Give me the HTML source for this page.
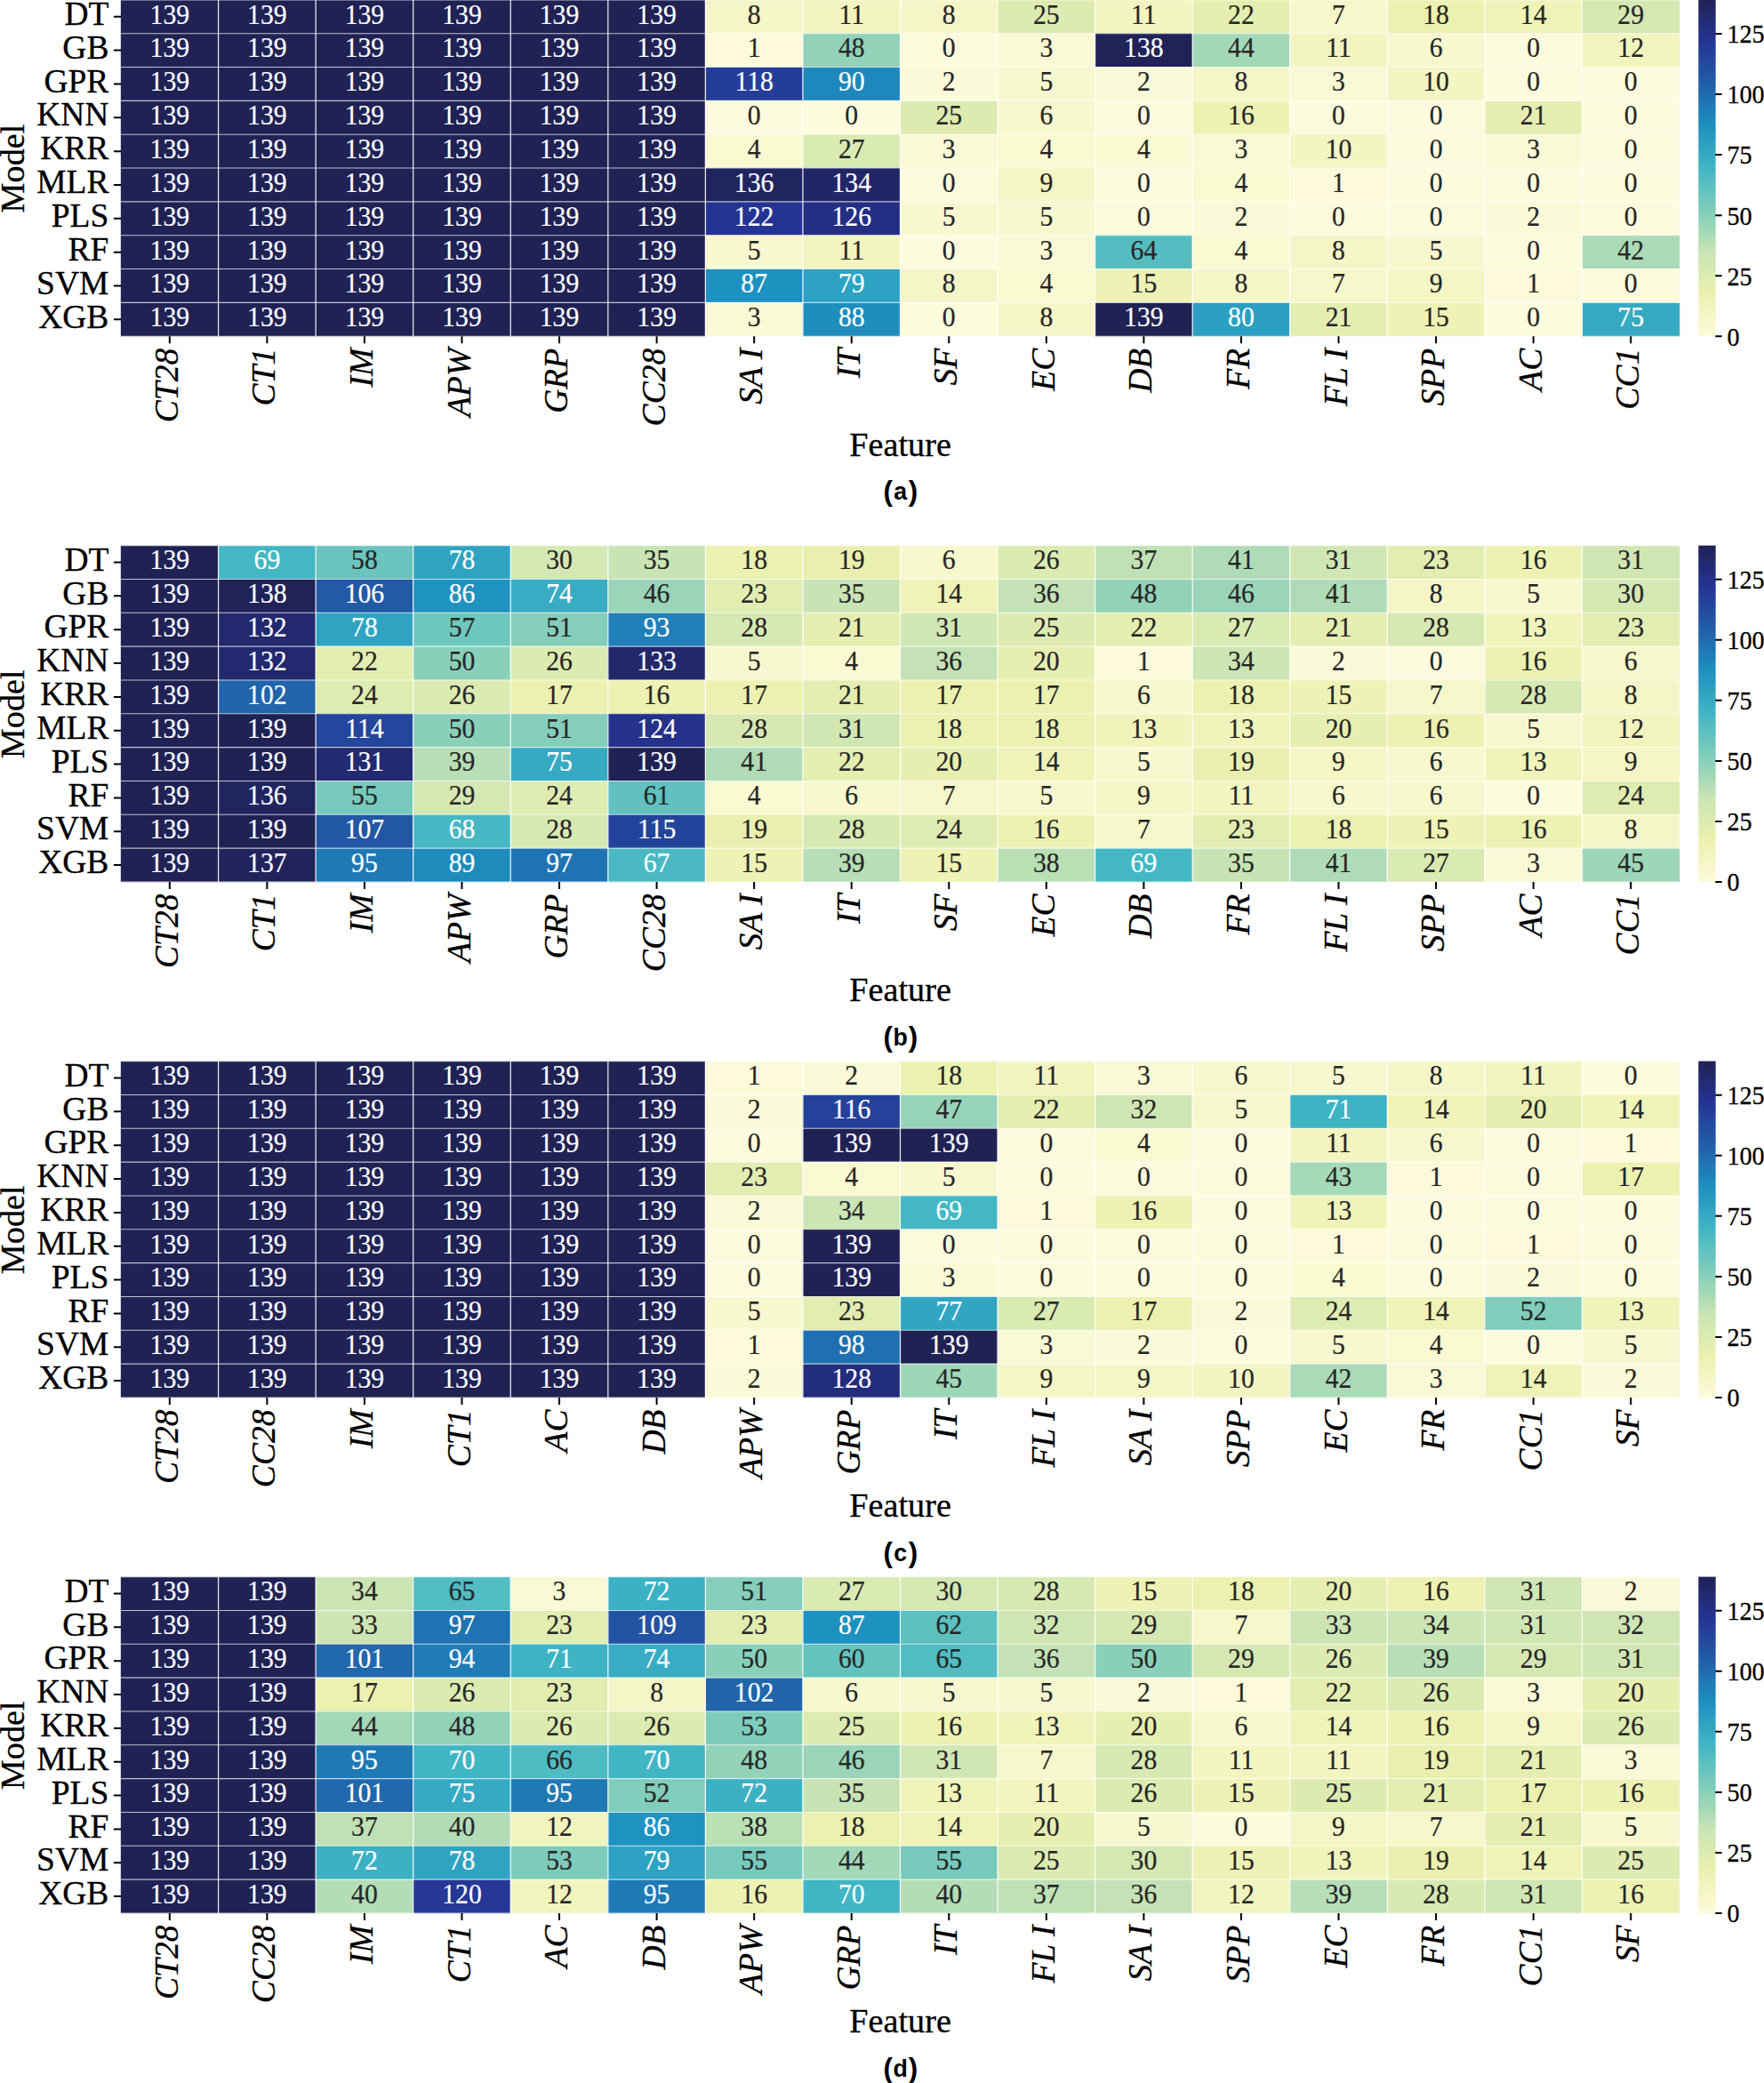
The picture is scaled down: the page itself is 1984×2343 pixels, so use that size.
<!DOCTYPE html>
<html><head><meta charset="utf-8"><title>Feature selection frequency heatmaps</title>
<style>
html,body{margin:0;padding:0;background:#fff}
body{width:1984px;height:2343px;overflow:hidden}
svg{display:block}
text{font-family:"Liberation Serif","Times New Roman",serif}
.an{font-size:31.8px;text-anchor:middle;stroke-width:0.22}
.w{fill:#fff;stroke:#fff}.k{fill:#262626;stroke:#262626}
.yt{font-size:37.5px;text-anchor:end;fill:#000;stroke:#000;stroke-width:0.3}
.xt{font-size:37.5px;text-anchor:end;font-style:italic;fill:#000;stroke:#000;stroke-width:0.3}
.al{font-size:38.2px;text-anchor:middle;fill:#000;stroke:#000;stroke-width:0.3}
.cb{font-size:30.2px;text-anchor:start;fill:#000;stroke:#000;stroke-width:0.3}
.cap{font-family:"Liberation Sans",Arial,sans-serif;font-weight:bold;font-size:26.8px;text-anchor:middle;fill:#000}
.pr{font-size:31.5px}
.tk{stroke:#000;stroke-width:2;fill:none}
.gh{stroke:#fff;stroke-width:1.1;stroke-opacity:0.7;fill:none}
.gv{stroke:#fff;stroke-width:1.25;stroke-opacity:0.9;fill:none}
</style></head><body>
<svg width="1984" height="2343" viewBox="0 0 1984 2343">
<defs><linearGradient id="cbg" x1="0" y1="0" x2="0" y2="1"><stop offset="0.0000" stop-color="#202254"/><stop offset="0.0156" stop-color="#21245c"/><stop offset="0.0312" stop-color="#212664"/><stop offset="0.0469" stop-color="#22296c"/><stop offset="0.0625" stop-color="#222b74"/><stop offset="0.0781" stop-color="#232d7c"/><stop offset="0.0938" stop-color="#243084"/><stop offset="0.1094" stop-color="#24328c"/><stop offset="0.1250" stop-color="#253494"/><stop offset="0.1406" stop-color="#253996"/><stop offset="0.1562" stop-color="#243e99"/><stop offset="0.1719" stop-color="#24449c"/><stop offset="0.1875" stop-color="#24499e"/><stop offset="0.2031" stop-color="#234ea0"/><stop offset="0.2188" stop-color="#2354a3"/><stop offset="0.2344" stop-color="#2259a6"/><stop offset="0.2500" stop-color="#225ea8"/><stop offset="0.2656" stop-color="#2164ab"/><stop offset="0.2812" stop-color="#216bae"/><stop offset="0.2969" stop-color="#2071b1"/><stop offset="0.3125" stop-color="#2078b4"/><stop offset="0.3281" stop-color="#1f7eb7"/><stop offset="0.3438" stop-color="#1e84ba"/><stop offset="0.3594" stop-color="#1e8bbd"/><stop offset="0.3750" stop-color="#1d91c0"/><stop offset="0.3906" stop-color="#2296c0"/><stop offset="0.4062" stop-color="#269ac1"/><stop offset="0.4219" stop-color="#2a9fc2"/><stop offset="0.4375" stop-color="#2fa4c2"/><stop offset="0.4531" stop-color="#34a8c2"/><stop offset="0.4688" stop-color="#38adc3"/><stop offset="0.4844" stop-color="#3cb1c4"/><stop offset="0.5000" stop-color="#41b6c4"/><stop offset="0.5156" stop-color="#49b9c3"/><stop offset="0.5312" stop-color="#51bcc2"/><stop offset="0.5469" stop-color="#59bfc1"/><stop offset="0.5625" stop-color="#60c2c0"/><stop offset="0.5781" stop-color="#68c4be"/><stop offset="0.5938" stop-color="#70c7bd"/><stop offset="0.6094" stop-color="#78cabc"/><stop offset="0.6250" stop-color="#80cdbb"/><stop offset="0.6406" stop-color="#89d0ba"/><stop offset="0.6562" stop-color="#92d3b9"/><stop offset="0.6719" stop-color="#9bd6b8"/><stop offset="0.6875" stop-color="#a4d8b8"/><stop offset="0.7031" stop-color="#aedbb7"/><stop offset="0.7188" stop-color="#b7deb6"/><stop offset="0.7344" stop-color="#c0e1b5"/><stop offset="0.7500" stop-color="#c9e4b4"/><stop offset="0.7656" stop-color="#cde6b3"/><stop offset="0.7812" stop-color="#d2e7b3"/><stop offset="0.7969" stop-color="#d6e9b2"/><stop offset="0.8125" stop-color="#daeab2"/><stop offset="0.8281" stop-color="#dfecb1"/><stop offset="0.8438" stop-color="#e3eeb0"/><stop offset="0.8594" stop-color="#e8efb0"/><stop offset="0.8750" stop-color="#ecf1af"/><stop offset="0.8906" stop-color="#eef2b5"/><stop offset="0.9062" stop-color="#f0f4ba"/><stop offset="0.9219" stop-color="#f2f5c0"/><stop offset="0.9375" stop-color="#f4f6c6"/><stop offset="0.9531" stop-color="#f7f7cc"/><stop offset="0.9688" stop-color="#f9f8d2"/><stop offset="0.9844" stop-color="#fbfad7"/><stop offset="1.0000" stop-color="#fdfbdd"/></linearGradient></defs>
<g>
<rect x="135.84" y="-0.35" width="657.76" height="38.24" fill="#202254"/><rect x="793.2" y="-0.35" width="109.96" height="38.24" fill="#f5f6c8"/><rect x="902.76" y="-0.35" width="109.96" height="38.24" fill="#f2f5c0"/><rect x="1012.32" y="-0.35" width="109.96" height="38.24" fill="#f5f6c8"/><rect x="1121.88" y="-0.35" width="109.96" height="38.24" fill="#ddebb1"/><rect x="1231.44" y="-0.35" width="109.96" height="38.24" fill="#f2f5c0"/><rect x="1341" y="-0.35" width="109.96" height="38.24" fill="#e3eeb0"/><rect x="1450.56" y="-0.35" width="109.96" height="38.24" fill="#f6f7ca"/><rect x="1560.12" y="-0.35" width="109.96" height="38.24" fill="#ebf1af"/><rect x="1669.68" y="-0.35" width="109.96" height="38.24" fill="#eff3b8"/><rect x="1779.24" y="-0.35" width="109.96" height="38.24" fill="#d5e8b2"/>
<rect x="135.84" y="37.49" width="657.76" height="38.24" fill="#202254"/><rect x="793.2" y="37.49" width="109.96" height="38.24" fill="#fcfada"/><rect x="902.76" y="37.49" width="109.96" height="38.24" fill="#91d2b9"/><rect x="1012.32" y="37.49" width="109.96" height="38.24" fill="#fdfbdd"/><rect x="1121.88" y="37.49" width="109.96" height="38.24" fill="#faf9d5"/><rect x="1231.44" y="37.49" width="109.96" height="38.24" fill="#202358"/><rect x="1341" y="37.49" width="109.96" height="38.24" fill="#a2d8b8"/><rect x="1450.56" y="37.49" width="109.96" height="38.24" fill="#f2f5c0"/><rect x="1560.12" y="37.49" width="109.96" height="38.24" fill="#f7f8cd"/><rect x="1669.68" y="37.49" width="109.96" height="38.24" fill="#fdfbdd"/><rect x="1779.24" y="37.49" width="109.96" height="38.24" fill="#f1f4bd"/>
<rect x="135.84" y="75.33" width="657.76" height="38.24" fill="#202254"/><rect x="793.2" y="75.33" width="109.96" height="38.24" fill="#243d98"/><rect x="902.76" y="75.33" width="109.96" height="38.24" fill="#1e88bc"/><rect x="1012.32" y="75.33" width="109.96" height="38.24" fill="#fbfad8"/><rect x="1121.88" y="75.33" width="109.96" height="38.24" fill="#f8f8d0"/><rect x="1231.44" y="75.33" width="109.96" height="38.24" fill="#fbfad8"/><rect x="1341" y="75.33" width="109.96" height="38.24" fill="#f5f6c8"/><rect x="1450.56" y="75.33" width="109.96" height="38.24" fill="#faf9d5"/><rect x="1560.12" y="75.33" width="109.96" height="38.24" fill="#f3f5c3"/><rect x="1669.68" y="75.33" width="219.52" height="38.24" fill="#fdfbdd"/>
<rect x="135.84" y="113.17" width="657.76" height="38.24" fill="#202254"/><rect x="793.2" y="113.17" width="219.52" height="38.24" fill="#fdfbdd"/><rect x="1012.32" y="113.17" width="109.96" height="38.24" fill="#ddebb1"/><rect x="1121.88" y="113.17" width="109.96" height="38.24" fill="#f7f8cd"/><rect x="1231.44" y="113.17" width="109.96" height="38.24" fill="#fdfbdd"/><rect x="1341" y="113.17" width="109.96" height="38.24" fill="#edf2b3"/><rect x="1450.56" y="113.17" width="219.52" height="38.24" fill="#fdfbdd"/><rect x="1669.68" y="113.17" width="109.96" height="38.24" fill="#e5eeb0"/><rect x="1779.24" y="113.17" width="109.96" height="38.24" fill="#fdfbdd"/>
<rect x="135.84" y="151.01" width="657.76" height="38.24" fill="#202254"/><rect x="793.2" y="151.01" width="109.96" height="38.24" fill="#f9f9d2"/><rect x="902.76" y="151.01" width="109.96" height="38.24" fill="#d9eab2"/><rect x="1012.32" y="151.01" width="109.96" height="38.24" fill="#faf9d5"/><rect x="1121.88" y="151.01" width="219.52" height="38.24" fill="#f9f9d2"/><rect x="1341" y="151.01" width="109.96" height="38.24" fill="#faf9d5"/><rect x="1450.56" y="151.01" width="109.96" height="38.24" fill="#f3f5c3"/><rect x="1560.12" y="151.01" width="109.96" height="38.24" fill="#fdfbdd"/><rect x="1669.68" y="151.01" width="109.96" height="38.24" fill="#faf9d5"/><rect x="1779.24" y="151.01" width="109.96" height="38.24" fill="#fdfbdd"/>
<rect x="135.84" y="188.85" width="657.76" height="38.24" fill="#202254"/><rect x="793.2" y="188.85" width="109.96" height="38.24" fill="#21255f"/><rect x="902.76" y="188.85" width="109.96" height="38.24" fill="#212766"/><rect x="1012.32" y="188.85" width="109.96" height="38.24" fill="#fdfbdd"/><rect x="1121.88" y="188.85" width="109.96" height="38.24" fill="#f4f6c5"/><rect x="1231.44" y="188.85" width="109.96" height="38.24" fill="#fdfbdd"/><rect x="1341" y="188.85" width="109.96" height="38.24" fill="#f9f9d2"/><rect x="1450.56" y="188.85" width="109.96" height="38.24" fill="#fcfada"/><rect x="1560.12" y="188.85" width="329.08" height="38.24" fill="#fdfbdd"/>
<rect x="135.84" y="226.69" width="657.76" height="38.24" fill="#202254"/><rect x="793.2" y="226.69" width="109.96" height="38.24" fill="#253493"/><rect x="902.76" y="226.69" width="109.96" height="38.24" fill="#242f84"/><rect x="1012.32" y="226.69" width="219.52" height="38.24" fill="#f8f8d0"/><rect x="1231.44" y="226.69" width="109.96" height="38.24" fill="#fdfbdd"/><rect x="1341" y="226.69" width="109.96" height="38.24" fill="#fbfad8"/><rect x="1450.56" y="226.69" width="219.52" height="38.24" fill="#fdfbdd"/><rect x="1669.68" y="226.69" width="109.96" height="38.24" fill="#fbfad8"/><rect x="1779.24" y="226.69" width="109.96" height="38.24" fill="#fdfbdd"/>
<rect x="135.84" y="264.53" width="657.76" height="38.24" fill="#202254"/><rect x="793.2" y="264.53" width="109.96" height="38.24" fill="#f8f8d0"/><rect x="902.76" y="264.53" width="109.96" height="38.24" fill="#f2f5c0"/><rect x="1012.32" y="264.53" width="109.96" height="38.24" fill="#fdfbdd"/><rect x="1121.88" y="264.53" width="109.96" height="38.24" fill="#faf9d5"/><rect x="1231.44" y="264.53" width="109.96" height="38.24" fill="#55bdc1"/><rect x="1341" y="264.53" width="109.96" height="38.24" fill="#f9f9d2"/><rect x="1450.56" y="264.53" width="109.96" height="38.24" fill="#f5f6c8"/><rect x="1560.12" y="264.53" width="109.96" height="38.24" fill="#f8f8d0"/><rect x="1669.68" y="264.53" width="109.96" height="38.24" fill="#fdfbdd"/><rect x="1779.24" y="264.53" width="109.96" height="38.24" fill="#abdab7"/>
<rect x="135.84" y="302.37" width="657.76" height="38.24" fill="#202254"/><rect x="793.2" y="302.37" width="109.96" height="38.24" fill="#1d91c0"/><rect x="902.76" y="302.37" width="109.96" height="38.24" fill="#2da2c2"/><rect x="1012.32" y="302.37" width="109.96" height="38.24" fill="#f5f6c8"/><rect x="1121.88" y="302.37" width="109.96" height="38.24" fill="#f9f9d2"/><rect x="1231.44" y="302.37" width="109.96" height="38.24" fill="#eef2b5"/><rect x="1341" y="302.37" width="109.96" height="38.24" fill="#f5f6c8"/><rect x="1450.56" y="302.37" width="109.96" height="38.24" fill="#f6f7ca"/><rect x="1560.12" y="302.37" width="109.96" height="38.24" fill="#f4f6c5"/><rect x="1669.68" y="302.37" width="109.96" height="38.24" fill="#fcfada"/><rect x="1779.24" y="302.37" width="109.96" height="38.24" fill="#fdfbdd"/>
<rect x="135.84" y="340.21" width="657.76" height="38.24" fill="#202254"/><rect x="793.2" y="340.21" width="109.96" height="38.24" fill="#faf9d5"/><rect x="902.76" y="340.21" width="109.96" height="38.24" fill="#1d8ebe"/><rect x="1012.32" y="340.21" width="109.96" height="38.24" fill="#fdfbdd"/><rect x="1121.88" y="340.21" width="109.96" height="38.24" fill="#f5f6c8"/><rect x="1231.44" y="340.21" width="109.96" height="38.24" fill="#202254"/><rect x="1341" y="340.21" width="109.96" height="38.24" fill="#2ba0c2"/><rect x="1450.56" y="340.21" width="109.96" height="38.24" fill="#e5eeb0"/><rect x="1560.12" y="340.21" width="109.96" height="38.24" fill="#eef2b5"/><rect x="1669.68" y="340.21" width="109.96" height="38.24" fill="#fdfbdd"/><rect x="1779.24" y="340.21" width="109.96" height="38.24" fill="#36aac3"/>
<path class="gh" d="M136.04 -0.15H1889M136.04 37.69H1889M136.04 75.53H1889M136.04 113.37H1889M136.04 151.21H1889M136.04 189.05H1889M136.04 226.89H1889M136.04 264.73H1889M136.04 302.57H1889M136.04 340.41H1889M136.04 378.25H1889"/>
<path class="gv" d="M245.6 -0.15V378.25M355.16 -0.15V378.25M464.72 -0.15V378.25M574.28 -0.15V378.25M683.84 -0.15V378.25M793.4 -0.15V378.25M902.96 -0.15V378.25M1012.52 -0.15V378.25M1122.08 -0.15V378.25M1231.64 -0.15V378.25M1341.2 -0.15V378.25M1450.76 -0.15V378.25M1560.32 -0.15V378.25M1669.88 -0.15V378.25M1779.44 -0.15V378.25"/>
<g class="an" transform="scale(0.935 1)">
<text class="w" x="204.09" y="26.67">139</text><text class="w" x="321.26" y="26.67">139</text><text class="w" x="438.44" y="26.67">139</text><text class="w" x="555.61" y="26.67">139</text><text class="w" x="672.79" y="26.67">139</text><text class="w" x="789.97" y="26.67">139</text><text class="k" x="907.14" y="26.67">8</text><text class="k" x="1024.32" y="26.67">11</text><text class="k" x="1141.5" y="26.67">8</text><text class="k" x="1258.67" y="26.67">25</text><text class="k" x="1375.85" y="26.67">11</text><text class="k" x="1493.03" y="26.67">22</text><text class="k" x="1610.2" y="26.67">7</text><text class="k" x="1727.38" y="26.67">18</text><text class="k" x="1844.56" y="26.67">14</text><text class="k" x="1961.73" y="26.67">29</text>
<text class="w" x="204.09" y="64.51">139</text><text class="w" x="321.26" y="64.51">139</text><text class="w" x="438.44" y="64.51">139</text><text class="w" x="555.61" y="64.51">139</text><text class="w" x="672.79" y="64.51">139</text><text class="w" x="789.97" y="64.51">139</text><text class="k" x="907.14" y="64.51">1</text><text class="k" x="1024.32" y="64.51">48</text><text class="k" x="1141.5" y="64.51">0</text><text class="k" x="1258.67" y="64.51">3</text><text class="w" x="1375.85" y="64.51">138</text><text class="k" x="1493.03" y="64.51">44</text><text class="k" x="1610.2" y="64.51">11</text><text class="k" x="1727.38" y="64.51">6</text><text class="k" x="1844.56" y="64.51">0</text><text class="k" x="1961.73" y="64.51">12</text>
<text class="w" x="204.09" y="102.35">139</text><text class="w" x="321.26" y="102.35">139</text><text class="w" x="438.44" y="102.35">139</text><text class="w" x="555.61" y="102.35">139</text><text class="w" x="672.79" y="102.35">139</text><text class="w" x="789.97" y="102.35">139</text><text class="w" x="907.14" y="102.35">118</text><text class="w" x="1024.32" y="102.35">90</text><text class="k" x="1141.5" y="102.35">2</text><text class="k" x="1258.67" y="102.35">5</text><text class="k" x="1375.85" y="102.35">2</text><text class="k" x="1493.03" y="102.35">8</text><text class="k" x="1610.2" y="102.35">3</text><text class="k" x="1727.38" y="102.35">10</text><text class="k" x="1844.56" y="102.35">0</text><text class="k" x="1961.73" y="102.35">0</text>
<text class="w" x="204.09" y="140.19">139</text><text class="w" x="321.26" y="140.19">139</text><text class="w" x="438.44" y="140.19">139</text><text class="w" x="555.61" y="140.19">139</text><text class="w" x="672.79" y="140.19">139</text><text class="w" x="789.97" y="140.19">139</text><text class="k" x="907.14" y="140.19">0</text><text class="k" x="1024.32" y="140.19">0</text><text class="k" x="1141.5" y="140.19">25</text><text class="k" x="1258.67" y="140.19">6</text><text class="k" x="1375.85" y="140.19">0</text><text class="k" x="1493.03" y="140.19">16</text><text class="k" x="1610.2" y="140.19">0</text><text class="k" x="1727.38" y="140.19">0</text><text class="k" x="1844.56" y="140.19">21</text><text class="k" x="1961.73" y="140.19">0</text>
<text class="w" x="204.09" y="178.03">139</text><text class="w" x="321.26" y="178.03">139</text><text class="w" x="438.44" y="178.03">139</text><text class="w" x="555.61" y="178.03">139</text><text class="w" x="672.79" y="178.03">139</text><text class="w" x="789.97" y="178.03">139</text><text class="k" x="907.14" y="178.03">4</text><text class="k" x="1024.32" y="178.03">27</text><text class="k" x="1141.5" y="178.03">3</text><text class="k" x="1258.67" y="178.03">4</text><text class="k" x="1375.85" y="178.03">4</text><text class="k" x="1493.03" y="178.03">3</text><text class="k" x="1610.2" y="178.03">10</text><text class="k" x="1727.38" y="178.03">0</text><text class="k" x="1844.56" y="178.03">3</text><text class="k" x="1961.73" y="178.03">0</text>
<text class="w" x="204.09" y="215.87">139</text><text class="w" x="321.26" y="215.87">139</text><text class="w" x="438.44" y="215.87">139</text><text class="w" x="555.61" y="215.87">139</text><text class="w" x="672.79" y="215.87">139</text><text class="w" x="789.97" y="215.87">139</text><text class="w" x="907.14" y="215.87">136</text><text class="w" x="1024.32" y="215.87">134</text><text class="k" x="1141.5" y="215.87">0</text><text class="k" x="1258.67" y="215.87">9</text><text class="k" x="1375.85" y="215.87">0</text><text class="k" x="1493.03" y="215.87">4</text><text class="k" x="1610.2" y="215.87">1</text><text class="k" x="1727.38" y="215.87">0</text><text class="k" x="1844.56" y="215.87">0</text><text class="k" x="1961.73" y="215.87">0</text>
<text class="w" x="204.09" y="253.71">139</text><text class="w" x="321.26" y="253.71">139</text><text class="w" x="438.44" y="253.71">139</text><text class="w" x="555.61" y="253.71">139</text><text class="w" x="672.79" y="253.71">139</text><text class="w" x="789.97" y="253.71">139</text><text class="w" x="907.14" y="253.71">122</text><text class="w" x="1024.32" y="253.71">126</text><text class="k" x="1141.5" y="253.71">5</text><text class="k" x="1258.67" y="253.71">5</text><text class="k" x="1375.85" y="253.71">0</text><text class="k" x="1493.03" y="253.71">2</text><text class="k" x="1610.2" y="253.71">0</text><text class="k" x="1727.38" y="253.71">0</text><text class="k" x="1844.56" y="253.71">2</text><text class="k" x="1961.73" y="253.71">0</text>
<text class="w" x="204.09" y="291.55">139</text><text class="w" x="321.26" y="291.55">139</text><text class="w" x="438.44" y="291.55">139</text><text class="w" x="555.61" y="291.55">139</text><text class="w" x="672.79" y="291.55">139</text><text class="w" x="789.97" y="291.55">139</text><text class="k" x="907.14" y="291.55">5</text><text class="k" x="1024.32" y="291.55">11</text><text class="k" x="1141.5" y="291.55">0</text><text class="k" x="1258.67" y="291.55">3</text><text class="k" x="1375.85" y="291.55">64</text><text class="k" x="1493.03" y="291.55">4</text><text class="k" x="1610.2" y="291.55">8</text><text class="k" x="1727.38" y="291.55">5</text><text class="k" x="1844.56" y="291.55">0</text><text class="k" x="1961.73" y="291.55">42</text>
<text class="w" x="204.09" y="329.39">139</text><text class="w" x="321.26" y="329.39">139</text><text class="w" x="438.44" y="329.39">139</text><text class="w" x="555.61" y="329.39">139</text><text class="w" x="672.79" y="329.39">139</text><text class="w" x="789.97" y="329.39">139</text><text class="w" x="907.14" y="329.39">87</text><text class="w" x="1024.32" y="329.39">79</text><text class="k" x="1141.5" y="329.39">8</text><text class="k" x="1258.67" y="329.39">4</text><text class="k" x="1375.85" y="329.39">15</text><text class="k" x="1493.03" y="329.39">8</text><text class="k" x="1610.2" y="329.39">7</text><text class="k" x="1727.38" y="329.39">9</text><text class="k" x="1844.56" y="329.39">1</text><text class="k" x="1961.73" y="329.39">0</text>
<text class="w" x="204.09" y="367.23">139</text><text class="w" x="321.26" y="367.23">139</text><text class="w" x="438.44" y="367.23">139</text><text class="w" x="555.61" y="367.23">139</text><text class="w" x="672.79" y="367.23">139</text><text class="w" x="789.97" y="367.23">139</text><text class="k" x="907.14" y="367.23">3</text><text class="w" x="1024.32" y="367.23">88</text><text class="k" x="1141.5" y="367.23">0</text><text class="k" x="1258.67" y="367.23">8</text><text class="w" x="1375.85" y="367.23">139</text><text class="w" x="1493.03" y="367.23">80</text><text class="k" x="1610.2" y="367.23">21</text><text class="k" x="1727.38" y="367.23">15</text><text class="k" x="1844.56" y="367.23">0</text><text class="w" x="1961.73" y="367.23">75</text>
</g>
<text class="yt" x="122.4" y="27.97">DT</text><text class="yt" x="122.4" y="65.81">GB</text><text class="yt" x="122.4" y="103.65">GPR</text><text class="yt" x="122.4" y="141.49">KNN</text><text class="yt" x="122.4" y="179.33">KRR</text><text class="yt" x="122.4" y="217.17">MLR</text><text class="yt" x="122.4" y="255.01">PLS</text><text class="yt" x="122.4" y="292.85">RF</text><text class="yt" x="122.4" y="330.69">SVM</text><text class="yt" x="122.4" y="368.53">XGB</text>
<text class="xt" transform="translate(199.82 391.85) rotate(-90)">CT28</text><text class="xt" transform="translate(309.38 391.85) rotate(-90)">CT1</text><text class="xt" transform="translate(418.94 391.85) rotate(-90)">IM</text><text class="xt" transform="translate(528.5 391.85) rotate(-90)">APW</text><text class="xt" transform="translate(638.06 391.85) rotate(-90)">GRP</text><text class="xt" transform="translate(747.62 391.85) rotate(-90)">CC28</text><text class="xt" transform="translate(857.18 391.85) rotate(-90)">SA I</text><text class="xt" transform="translate(966.74 391.85) rotate(-90)">IT</text><text class="xt" transform="translate(1076.3 391.85) rotate(-90)">SF</text><text class="xt" transform="translate(1185.86 391.85) rotate(-90)">EC</text><text class="xt" transform="translate(1295.42 391.85) rotate(-90)">DB</text><text class="xt" transform="translate(1404.98 391.85) rotate(-90)">FR</text><text class="xt" transform="translate(1514.54 391.85) rotate(-90)">FL I</text><text class="xt" transform="translate(1624.1 391.85) rotate(-90)">SPP</text><text class="xt" transform="translate(1733.66 391.85) rotate(-90)">AC</text><text class="xt" transform="translate(1843.22 391.85) rotate(-90)">CC1</text>
<rect x="1910.25" y="-0.15" width="19.4" height="378.4" fill="url(#cbg)"/>
<text class="cb" transform="translate(1942.5 388.65) scale(0.93 1)">0</text><text class="cb" transform="translate(1942.5 320.59) scale(0.93 1)">25</text><text class="cb" transform="translate(1942.5 252.53) scale(0.93 1)">50</text><text class="cb" transform="translate(1942.5 184.48) scale(0.93 1)">75</text><text class="cb" transform="translate(1942.5 116.42) scale(0.93 1)">100</text><text class="cb" transform="translate(1942.5 48.36) scale(0.93 1)">125</text>
<path class="tk" d="M127.94 18.77H136.04M127.94 56.61H136.04M127.94 94.45H136.04M127.94 132.29H136.04M127.94 170.13H136.04M127.94 207.97H136.04M127.94 245.81H136.04M127.94 283.65H136.04M127.94 321.49H136.04M127.94 359.33H136.04M190.82 378.25V386.35M300.38 378.25V386.35M409.94 378.25V386.35M519.5 378.25V386.35M629.06 378.25V386.35M738.62 378.25V386.35M848.18 378.25V386.35M957.74 378.25V386.35M1067.3 378.25V386.35M1176.86 378.25V386.35M1286.42 378.25V386.35M1395.98 378.25V386.35M1505.54 378.25V386.35M1615.1 378.25V386.35M1724.66 378.25V386.35M1834.22 378.25V386.35M1929.25 378.25H1936.65M1929.25 310.19H1936.65M1929.25 242.13H1936.65M1929.25 174.08H1936.65M1929.25 106.02H1936.65M1929.25 37.96H1936.65"/>
<text class="al" transform="translate(26.6 189.55) rotate(-90)">Model</text>
<text class="al" x="1012.6" y="512.65">Feature</text>
<text class="cap" y="561.8"><tspan class="pr" x="998.85" y="562.8">(</tspan><tspan x="1012.8" y="561.8">a</tspan><tspan class="pr" x="1027.1" y="562.8">)</tspan></text>
</g>
<g>
<rect x="135.84" y="613.4" width="109.96" height="38.24" fill="#202254"/><rect x="245.4" y="613.4" width="109.96" height="38.24" fill="#43b7c4"/><rect x="354.96" y="613.4" width="109.96" height="38.24" fill="#6bc5be"/><rect x="464.52" y="613.4" width="109.96" height="38.24" fill="#2fa4c2"/><rect x="574.08" y="613.4" width="109.96" height="38.24" fill="#d3e8b3"/><rect x="683.64" y="613.4" width="109.96" height="38.24" fill="#c8e4b4"/><rect x="793.2" y="613.4" width="109.96" height="38.24" fill="#ebf1af"/><rect x="902.76" y="613.4" width="109.96" height="38.24" fill="#e9f0af"/><rect x="1012.32" y="613.4" width="109.96" height="38.24" fill="#f7f8cd"/><rect x="1121.88" y="613.4" width="109.96" height="38.24" fill="#dbebb1"/><rect x="1231.44" y="613.4" width="109.96" height="38.24" fill="#c0e1b5"/><rect x="1341" y="613.4" width="109.96" height="38.24" fill="#afdcb7"/><rect x="1450.56" y="613.4" width="109.96" height="38.24" fill="#d1e7b3"/><rect x="1560.12" y="613.4" width="109.96" height="38.24" fill="#e1edb1"/><rect x="1669.68" y="613.4" width="109.96" height="38.24" fill="#edf2b3"/><rect x="1779.24" y="613.4" width="109.96" height="38.24" fill="#d1e7b3"/>
<rect x="135.84" y="651.24" width="109.96" height="38.24" fill="#202254"/><rect x="245.4" y="651.24" width="109.96" height="38.24" fill="#202358"/><rect x="354.96" y="651.24" width="109.96" height="38.24" fill="#225aa6"/><rect x="464.52" y="651.24" width="109.96" height="38.24" fill="#1f93c0"/><rect x="574.08" y="651.24" width="109.96" height="38.24" fill="#38acc3"/><rect x="683.64" y="651.24" width="109.96" height="38.24" fill="#9ad5b9"/><rect x="793.2" y="651.24" width="109.96" height="38.24" fill="#e1edb1"/><rect x="902.76" y="651.24" width="109.96" height="38.24" fill="#c8e4b4"/><rect x="1012.32" y="651.24" width="109.96" height="38.24" fill="#eff3b8"/><rect x="1121.88" y="651.24" width="109.96" height="38.24" fill="#c4e2b5"/><rect x="1231.44" y="651.24" width="109.96" height="38.24" fill="#91d2b9"/><rect x="1341" y="651.24" width="109.96" height="38.24" fill="#9ad5b9"/><rect x="1450.56" y="651.24" width="109.96" height="38.24" fill="#afdcb7"/><rect x="1560.12" y="651.24" width="109.96" height="38.24" fill="#f5f6c8"/><rect x="1669.68" y="651.24" width="109.96" height="38.24" fill="#f8f8d0"/><rect x="1779.24" y="651.24" width="109.96" height="38.24" fill="#d3e8b3"/>
<rect x="135.84" y="689.08" width="109.96" height="38.24" fill="#202254"/><rect x="245.4" y="689.08" width="109.96" height="38.24" fill="#22296e"/><rect x="354.96" y="689.08" width="109.96" height="38.24" fill="#2fa4c2"/><rect x="464.52" y="689.08" width="109.96" height="38.24" fill="#6ec7be"/><rect x="574.08" y="689.08" width="109.96" height="38.24" fill="#85cebb"/><rect x="683.64" y="689.08" width="109.96" height="38.24" fill="#1f7fb8"/><rect x="793.2" y="689.08" width="109.96" height="38.24" fill="#d7e9b2"/><rect x="902.76" y="689.08" width="109.96" height="38.24" fill="#e5eeb0"/><rect x="1012.32" y="689.08" width="109.96" height="38.24" fill="#d1e7b3"/><rect x="1121.88" y="689.08" width="109.96" height="38.24" fill="#ddebb1"/><rect x="1231.44" y="689.08" width="109.96" height="38.24" fill="#e3eeb0"/><rect x="1341" y="689.08" width="109.96" height="38.24" fill="#d9eab2"/><rect x="1450.56" y="689.08" width="109.96" height="38.24" fill="#e5eeb0"/><rect x="1560.12" y="689.08" width="109.96" height="38.24" fill="#d7e9b2"/><rect x="1669.68" y="689.08" width="109.96" height="38.24" fill="#f0f4bb"/><rect x="1779.24" y="689.08" width="109.96" height="38.24" fill="#e1edb1"/>
<rect x="135.84" y="726.92" width="109.96" height="38.24" fill="#202254"/><rect x="245.4" y="726.92" width="109.96" height="38.24" fill="#22296e"/><rect x="354.96" y="726.92" width="109.96" height="38.24" fill="#e3eeb0"/><rect x="464.52" y="726.92" width="109.96" height="38.24" fill="#89d0ba"/><rect x="574.08" y="726.92" width="109.96" height="38.24" fill="#dbebb1"/><rect x="683.64" y="726.92" width="109.96" height="38.24" fill="#22286a"/><rect x="793.2" y="726.92" width="109.96" height="38.24" fill="#f8f8d0"/><rect x="902.76" y="726.92" width="109.96" height="38.24" fill="#f9f9d2"/><rect x="1012.32" y="726.92" width="109.96" height="38.24" fill="#c4e2b5"/><rect x="1121.88" y="726.92" width="109.96" height="38.24" fill="#e7efb0"/><rect x="1231.44" y="726.92" width="109.96" height="38.24" fill="#fcfada"/><rect x="1341" y="726.92" width="109.96" height="38.24" fill="#cbe5b4"/><rect x="1450.56" y="726.92" width="109.96" height="38.24" fill="#fbfad8"/><rect x="1560.12" y="726.92" width="109.96" height="38.24" fill="#fdfbdd"/><rect x="1669.68" y="726.92" width="109.96" height="38.24" fill="#edf2b3"/><rect x="1779.24" y="726.92" width="109.96" height="38.24" fill="#f7f8cd"/>
<rect x="135.84" y="764.76" width="109.96" height="38.24" fill="#202254"/><rect x="245.4" y="764.76" width="109.96" height="38.24" fill="#2165ab"/><rect x="354.96" y="764.76" width="109.96" height="38.24" fill="#dfecb1"/><rect x="464.52" y="764.76" width="109.96" height="38.24" fill="#dbebb1"/><rect x="574.08" y="764.76" width="109.96" height="38.24" fill="#ecf1b0"/><rect x="683.64" y="764.76" width="109.96" height="38.24" fill="#edf2b3"/><rect x="793.2" y="764.76" width="109.96" height="38.24" fill="#ecf1b0"/><rect x="902.76" y="764.76" width="109.96" height="38.24" fill="#e5eeb0"/><rect x="1012.32" y="764.76" width="219.52" height="38.24" fill="#ecf1b0"/><rect x="1231.44" y="764.76" width="109.96" height="38.24" fill="#f7f8cd"/><rect x="1341" y="764.76" width="109.96" height="38.24" fill="#ebf1af"/><rect x="1450.56" y="764.76" width="109.96" height="38.24" fill="#eef2b5"/><rect x="1560.12" y="764.76" width="109.96" height="38.24" fill="#f6f7ca"/><rect x="1669.68" y="764.76" width="109.96" height="38.24" fill="#d7e9b2"/><rect x="1779.24" y="764.76" width="109.96" height="38.24" fill="#f5f6c8"/>
<rect x="135.84" y="802.6" width="219.52" height="38.24" fill="#202254"/><rect x="354.96" y="802.6" width="109.96" height="38.24" fill="#24469d"/><rect x="464.52" y="802.6" width="109.96" height="38.24" fill="#89d0ba"/><rect x="574.08" y="802.6" width="109.96" height="38.24" fill="#85cebb"/><rect x="683.64" y="802.6" width="109.96" height="38.24" fill="#24328b"/><rect x="793.2" y="802.6" width="109.96" height="38.24" fill="#d7e9b2"/><rect x="902.76" y="802.6" width="109.96" height="38.24" fill="#d1e7b3"/><rect x="1012.32" y="802.6" width="219.52" height="38.24" fill="#ebf1af"/><rect x="1231.44" y="802.6" width="219.52" height="38.24" fill="#f0f4bb"/><rect x="1450.56" y="802.6" width="109.96" height="38.24" fill="#e7efb0"/><rect x="1560.12" y="802.6" width="109.96" height="38.24" fill="#edf2b3"/><rect x="1669.68" y="802.6" width="109.96" height="38.24" fill="#f8f8d0"/><rect x="1779.24" y="802.6" width="109.96" height="38.24" fill="#f1f4bd"/>
<rect x="135.84" y="840.44" width="219.52" height="38.24" fill="#202254"/><rect x="354.96" y="840.44" width="109.96" height="38.24" fill="#222a71"/><rect x="464.52" y="840.44" width="109.96" height="38.24" fill="#b7deb6"/><rect x="574.08" y="840.44" width="109.96" height="38.24" fill="#36aac3"/><rect x="683.64" y="840.44" width="109.96" height="38.24" fill="#202254"/><rect x="793.2" y="840.44" width="109.96" height="38.24" fill="#afdcb7"/><rect x="902.76" y="840.44" width="109.96" height="38.24" fill="#e3eeb0"/><rect x="1012.32" y="840.44" width="109.96" height="38.24" fill="#e7efb0"/><rect x="1121.88" y="840.44" width="109.96" height="38.24" fill="#eff3b8"/><rect x="1231.44" y="840.44" width="109.96" height="38.24" fill="#f8f8d0"/><rect x="1341" y="840.44" width="109.96" height="38.24" fill="#e9f0af"/><rect x="1450.56" y="840.44" width="109.96" height="38.24" fill="#f4f6c5"/><rect x="1560.12" y="840.44" width="109.96" height="38.24" fill="#f7f8cd"/><rect x="1669.68" y="840.44" width="109.96" height="38.24" fill="#f0f4bb"/><rect x="1779.24" y="840.44" width="109.96" height="38.24" fill="#f4f6c5"/>
<rect x="135.84" y="878.28" width="109.96" height="38.24" fill="#202254"/><rect x="245.4" y="878.28" width="109.96" height="38.24" fill="#21255f"/><rect x="354.96" y="878.28" width="109.96" height="38.24" fill="#76c9bc"/><rect x="464.52" y="878.28" width="109.96" height="38.24" fill="#d5e8b2"/><rect x="574.08" y="878.28" width="109.96" height="38.24" fill="#dfecb1"/><rect x="683.64" y="878.28" width="109.96" height="38.24" fill="#60c1c0"/><rect x="793.2" y="878.28" width="109.96" height="38.24" fill="#f9f9d2"/><rect x="902.76" y="878.28" width="109.96" height="38.24" fill="#f7f8cd"/><rect x="1012.32" y="878.28" width="109.96" height="38.24" fill="#f6f7ca"/><rect x="1121.88" y="878.28" width="109.96" height="38.24" fill="#f8f8d0"/><rect x="1231.44" y="878.28" width="109.96" height="38.24" fill="#f4f6c5"/><rect x="1341" y="878.28" width="109.96" height="38.24" fill="#f2f5c0"/><rect x="1450.56" y="878.28" width="219.52" height="38.24" fill="#f7f8cd"/><rect x="1669.68" y="878.28" width="109.96" height="38.24" fill="#fdfbdd"/><rect x="1779.24" y="878.28" width="109.96" height="38.24" fill="#dfecb1"/>
<rect x="135.84" y="916.12" width="219.52" height="38.24" fill="#202254"/><rect x="354.96" y="916.12" width="109.96" height="38.24" fill="#2257a5"/><rect x="464.52" y="916.12" width="109.96" height="38.24" fill="#46b8c3"/><rect x="574.08" y="916.12" width="109.96" height="38.24" fill="#d7e9b2"/><rect x="683.64" y="916.12" width="109.96" height="38.24" fill="#24449c"/><rect x="793.2" y="916.12" width="109.96" height="38.24" fill="#e9f0af"/><rect x="902.76" y="916.12" width="109.96" height="38.24" fill="#d7e9b2"/><rect x="1012.32" y="916.12" width="109.96" height="38.24" fill="#dfecb1"/><rect x="1121.88" y="916.12" width="109.96" height="38.24" fill="#edf2b3"/><rect x="1231.44" y="916.12" width="109.96" height="38.24" fill="#f6f7ca"/><rect x="1341" y="916.12" width="109.96" height="38.24" fill="#e1edb1"/><rect x="1450.56" y="916.12" width="109.96" height="38.24" fill="#ebf1af"/><rect x="1560.12" y="916.12" width="109.96" height="38.24" fill="#eef2b5"/><rect x="1669.68" y="916.12" width="109.96" height="38.24" fill="#edf2b3"/><rect x="1779.24" y="916.12" width="109.96" height="38.24" fill="#f5f6c8"/>
<rect x="135.84" y="953.96" width="109.96" height="38.24" fill="#202254"/><rect x="245.4" y="953.96" width="109.96" height="38.24" fill="#21245b"/><rect x="354.96" y="953.96" width="109.96" height="38.24" fill="#1f79b5"/><rect x="464.52" y="953.96" width="109.96" height="38.24" fill="#1e8bbd"/><rect x="574.08" y="953.96" width="109.96" height="38.24" fill="#2073b2"/><rect x="683.64" y="953.96" width="109.96" height="38.24" fill="#4ab9c3"/><rect x="793.2" y="953.96" width="109.96" height="38.24" fill="#eef2b5"/><rect x="902.76" y="953.96" width="109.96" height="38.24" fill="#b7deb6"/><rect x="1012.32" y="953.96" width="109.96" height="38.24" fill="#eef2b5"/><rect x="1121.88" y="953.96" width="109.96" height="38.24" fill="#bbe0b5"/><rect x="1231.44" y="953.96" width="109.96" height="38.24" fill="#43b7c4"/><rect x="1341" y="953.96" width="109.96" height="38.24" fill="#c8e4b4"/><rect x="1450.56" y="953.96" width="109.96" height="38.24" fill="#afdcb7"/><rect x="1560.12" y="953.96" width="109.96" height="38.24" fill="#d9eab2"/><rect x="1669.68" y="953.96" width="109.96" height="38.24" fill="#faf9d5"/><rect x="1779.24" y="953.96" width="109.96" height="38.24" fill="#9ed6b8"/>
<path class="gh" d="M136.04 613.6H1889M136.04 651.44H1889M136.04 689.28H1889M136.04 727.12H1889M136.04 764.96H1889M136.04 802.8H1889M136.04 840.64H1889M136.04 878.48H1889M136.04 916.32H1889M136.04 954.16H1889M136.04 992H1889"/>
<path class="gv" d="M245.6 613.6V992M355.16 613.6V992M464.72 613.6V992M574.28 613.6V992M683.84 613.6V992M793.4 613.6V992M902.96 613.6V992M1012.52 613.6V992M1122.08 613.6V992M1231.64 613.6V992M1341.2 613.6V992M1450.76 613.6V992M1560.32 613.6V992M1669.88 613.6V992M1779.44 613.6V992"/>
<g class="an" transform="scale(0.935 1)">
<text class="w" x="204.09" y="640.42">139</text><text class="w" x="321.26" y="640.42">69</text><text class="k" x="438.44" y="640.42">58</text><text class="w" x="555.61" y="640.42">78</text><text class="k" x="672.79" y="640.42">30</text><text class="k" x="789.97" y="640.42">35</text><text class="k" x="907.14" y="640.42">18</text><text class="k" x="1024.32" y="640.42">19</text><text class="k" x="1141.5" y="640.42">6</text><text class="k" x="1258.67" y="640.42">26</text><text class="k" x="1375.85" y="640.42">37</text><text class="k" x="1493.03" y="640.42">41</text><text class="k" x="1610.2" y="640.42">31</text><text class="k" x="1727.38" y="640.42">23</text><text class="k" x="1844.56" y="640.42">16</text><text class="k" x="1961.73" y="640.42">31</text>
<text class="w" x="204.09" y="678.26">139</text><text class="w" x="321.26" y="678.26">138</text><text class="w" x="438.44" y="678.26">106</text><text class="w" x="555.61" y="678.26">86</text><text class="w" x="672.79" y="678.26">74</text><text class="k" x="789.97" y="678.26">46</text><text class="k" x="907.14" y="678.26">23</text><text class="k" x="1024.32" y="678.26">35</text><text class="k" x="1141.5" y="678.26">14</text><text class="k" x="1258.67" y="678.26">36</text><text class="k" x="1375.85" y="678.26">48</text><text class="k" x="1493.03" y="678.26">46</text><text class="k" x="1610.2" y="678.26">41</text><text class="k" x="1727.38" y="678.26">8</text><text class="k" x="1844.56" y="678.26">5</text><text class="k" x="1961.73" y="678.26">30</text>
<text class="w" x="204.09" y="716.1">139</text><text class="w" x="321.26" y="716.1">132</text><text class="w" x="438.44" y="716.1">78</text><text class="k" x="555.61" y="716.1">57</text><text class="k" x="672.79" y="716.1">51</text><text class="w" x="789.97" y="716.1">93</text><text class="k" x="907.14" y="716.1">28</text><text class="k" x="1024.32" y="716.1">21</text><text class="k" x="1141.5" y="716.1">31</text><text class="k" x="1258.67" y="716.1">25</text><text class="k" x="1375.85" y="716.1">22</text><text class="k" x="1493.03" y="716.1">27</text><text class="k" x="1610.2" y="716.1">21</text><text class="k" x="1727.38" y="716.1">28</text><text class="k" x="1844.56" y="716.1">13</text><text class="k" x="1961.73" y="716.1">23</text>
<text class="w" x="204.09" y="753.94">139</text><text class="w" x="321.26" y="753.94">132</text><text class="k" x="438.44" y="753.94">22</text><text class="k" x="555.61" y="753.94">50</text><text class="k" x="672.79" y="753.94">26</text><text class="w" x="789.97" y="753.94">133</text><text class="k" x="907.14" y="753.94">5</text><text class="k" x="1024.32" y="753.94">4</text><text class="k" x="1141.5" y="753.94">36</text><text class="k" x="1258.67" y="753.94">20</text><text class="k" x="1375.85" y="753.94">1</text><text class="k" x="1493.03" y="753.94">34</text><text class="k" x="1610.2" y="753.94">2</text><text class="k" x="1727.38" y="753.94">0</text><text class="k" x="1844.56" y="753.94">16</text><text class="k" x="1961.73" y="753.94">6</text>
<text class="w" x="204.09" y="791.78">139</text><text class="w" x="321.26" y="791.78">102</text><text class="k" x="438.44" y="791.78">24</text><text class="k" x="555.61" y="791.78">26</text><text class="k" x="672.79" y="791.78">17</text><text class="k" x="789.97" y="791.78">16</text><text class="k" x="907.14" y="791.78">17</text><text class="k" x="1024.32" y="791.78">21</text><text class="k" x="1141.5" y="791.78">17</text><text class="k" x="1258.67" y="791.78">17</text><text class="k" x="1375.85" y="791.78">6</text><text class="k" x="1493.03" y="791.78">18</text><text class="k" x="1610.2" y="791.78">15</text><text class="k" x="1727.38" y="791.78">7</text><text class="k" x="1844.56" y="791.78">28</text><text class="k" x="1961.73" y="791.78">8</text>
<text class="w" x="204.09" y="829.62">139</text><text class="w" x="321.26" y="829.62">139</text><text class="w" x="438.44" y="829.62">114</text><text class="k" x="555.61" y="829.62">50</text><text class="k" x="672.79" y="829.62">51</text><text class="w" x="789.97" y="829.62">124</text><text class="k" x="907.14" y="829.62">28</text><text class="k" x="1024.32" y="829.62">31</text><text class="k" x="1141.5" y="829.62">18</text><text class="k" x="1258.67" y="829.62">18</text><text class="k" x="1375.85" y="829.62">13</text><text class="k" x="1493.03" y="829.62">13</text><text class="k" x="1610.2" y="829.62">20</text><text class="k" x="1727.38" y="829.62">16</text><text class="k" x="1844.56" y="829.62">5</text><text class="k" x="1961.73" y="829.62">12</text>
<text class="w" x="204.09" y="867.46">139</text><text class="w" x="321.26" y="867.46">139</text><text class="w" x="438.44" y="867.46">131</text><text class="k" x="555.61" y="867.46">39</text><text class="w" x="672.79" y="867.46">75</text><text class="w" x="789.97" y="867.46">139</text><text class="k" x="907.14" y="867.46">41</text><text class="k" x="1024.32" y="867.46">22</text><text class="k" x="1141.5" y="867.46">20</text><text class="k" x="1258.67" y="867.46">14</text><text class="k" x="1375.85" y="867.46">5</text><text class="k" x="1493.03" y="867.46">19</text><text class="k" x="1610.2" y="867.46">9</text><text class="k" x="1727.38" y="867.46">6</text><text class="k" x="1844.56" y="867.46">13</text><text class="k" x="1961.73" y="867.46">9</text>
<text class="w" x="204.09" y="905.3">139</text><text class="w" x="321.26" y="905.3">136</text><text class="k" x="438.44" y="905.3">55</text><text class="k" x="555.61" y="905.3">29</text><text class="k" x="672.79" y="905.3">24</text><text class="k" x="789.97" y="905.3">61</text><text class="k" x="907.14" y="905.3">4</text><text class="k" x="1024.32" y="905.3">6</text><text class="k" x="1141.5" y="905.3">7</text><text class="k" x="1258.67" y="905.3">5</text><text class="k" x="1375.85" y="905.3">9</text><text class="k" x="1493.03" y="905.3">11</text><text class="k" x="1610.2" y="905.3">6</text><text class="k" x="1727.38" y="905.3">6</text><text class="k" x="1844.56" y="905.3">0</text><text class="k" x="1961.73" y="905.3">24</text>
<text class="w" x="204.09" y="943.14">139</text><text class="w" x="321.26" y="943.14">139</text><text class="w" x="438.44" y="943.14">107</text><text class="w" x="555.61" y="943.14">68</text><text class="k" x="672.79" y="943.14">28</text><text class="w" x="789.97" y="943.14">115</text><text class="k" x="907.14" y="943.14">19</text><text class="k" x="1024.32" y="943.14">28</text><text class="k" x="1141.5" y="943.14">24</text><text class="k" x="1258.67" y="943.14">16</text><text class="k" x="1375.85" y="943.14">7</text><text class="k" x="1493.03" y="943.14">23</text><text class="k" x="1610.2" y="943.14">18</text><text class="k" x="1727.38" y="943.14">15</text><text class="k" x="1844.56" y="943.14">16</text><text class="k" x="1961.73" y="943.14">8</text>
<text class="w" x="204.09" y="980.98">139</text><text class="w" x="321.26" y="980.98">137</text><text class="w" x="438.44" y="980.98">95</text><text class="w" x="555.61" y="980.98">89</text><text class="w" x="672.79" y="980.98">97</text><text class="w" x="789.97" y="980.98">67</text><text class="k" x="907.14" y="980.98">15</text><text class="k" x="1024.32" y="980.98">39</text><text class="k" x="1141.5" y="980.98">15</text><text class="k" x="1258.67" y="980.98">38</text><text class="w" x="1375.85" y="980.98">69</text><text class="k" x="1493.03" y="980.98">35</text><text class="k" x="1610.2" y="980.98">41</text><text class="k" x="1727.38" y="980.98">27</text><text class="k" x="1844.56" y="980.98">3</text><text class="k" x="1961.73" y="980.98">45</text>
</g>
<text class="yt" x="122.4" y="641.72">DT</text><text class="yt" x="122.4" y="679.56">GB</text><text class="yt" x="122.4" y="717.4">GPR</text><text class="yt" x="122.4" y="755.24">KNN</text><text class="yt" x="122.4" y="793.08">KRR</text><text class="yt" x="122.4" y="830.92">MLR</text><text class="yt" x="122.4" y="868.76">PLS</text><text class="yt" x="122.4" y="906.6">RF</text><text class="yt" x="122.4" y="944.44">SVM</text><text class="yt" x="122.4" y="982.28">XGB</text>
<text class="xt" transform="translate(199.82 1005.6) rotate(-90)">CT28</text><text class="xt" transform="translate(309.38 1005.6) rotate(-90)">CT1</text><text class="xt" transform="translate(418.94 1005.6) rotate(-90)">IM</text><text class="xt" transform="translate(528.5 1005.6) rotate(-90)">APW</text><text class="xt" transform="translate(638.06 1005.6) rotate(-90)">GRP</text><text class="xt" transform="translate(747.62 1005.6) rotate(-90)">CC28</text><text class="xt" transform="translate(857.18 1005.6) rotate(-90)">SA I</text><text class="xt" transform="translate(966.74 1005.6) rotate(-90)">IT</text><text class="xt" transform="translate(1076.3 1005.6) rotate(-90)">SF</text><text class="xt" transform="translate(1185.86 1005.6) rotate(-90)">EC</text><text class="xt" transform="translate(1295.42 1005.6) rotate(-90)">DB</text><text class="xt" transform="translate(1404.98 1005.6) rotate(-90)">FR</text><text class="xt" transform="translate(1514.54 1005.6) rotate(-90)">FL I</text><text class="xt" transform="translate(1624.1 1005.6) rotate(-90)">SPP</text><text class="xt" transform="translate(1733.66 1005.6) rotate(-90)">AC</text><text class="xt" transform="translate(1843.22 1005.6) rotate(-90)">CC1</text>
<rect x="1910.25" y="613.6" width="19.4" height="378.4" fill="url(#cbg)"/>
<text class="cb" transform="translate(1942.5 1002.4) scale(0.93 1)">0</text><text class="cb" transform="translate(1942.5 934.34) scale(0.93 1)">25</text><text class="cb" transform="translate(1942.5 866.28) scale(0.93 1)">50</text><text class="cb" transform="translate(1942.5 798.23) scale(0.93 1)">75</text><text class="cb" transform="translate(1942.5 730.17) scale(0.93 1)">100</text><text class="cb" transform="translate(1942.5 662.11) scale(0.93 1)">125</text>
<path class="tk" d="M127.94 632.52H136.04M127.94 670.36H136.04M127.94 708.2H136.04M127.94 746.04H136.04M127.94 783.88H136.04M127.94 821.72H136.04M127.94 859.56H136.04M127.94 897.4H136.04M127.94 935.24H136.04M127.94 973.08H136.04M190.82 992V1000.1M300.38 992V1000.1M409.94 992V1000.1M519.5 992V1000.1M629.06 992V1000.1M738.62 992V1000.1M848.18 992V1000.1M957.74 992V1000.1M1067.3 992V1000.1M1176.86 992V1000.1M1286.42 992V1000.1M1395.98 992V1000.1M1505.54 992V1000.1M1615.1 992V1000.1M1724.66 992V1000.1M1834.22 992V1000.1M1929.25 992H1936.65M1929.25 923.94H1936.65M1929.25 855.88H1936.65M1929.25 787.83H1936.65M1929.25 719.77H1936.65M1929.25 651.71H1936.65"/>
<text class="al" transform="translate(26.6 803.3) rotate(-90)">Model</text>
<text class="al" x="1012.6" y="1126.4">Feature</text>
<text class="cap" y="1175.55"><tspan class="pr" x="998.85" y="1176.55">(</tspan><tspan x="1012.8" y="1175.55">b</tspan><tspan class="pr" x="1027.1" y="1176.55">)</tspan></text>
</g>
<g>
<rect x="135.84" y="1193.4" width="657.76" height="38.24" fill="#202254"/><rect x="793.2" y="1193.4" width="109.96" height="38.24" fill="#fcfada"/><rect x="902.76" y="1193.4" width="109.96" height="38.24" fill="#fbfad8"/><rect x="1012.32" y="1193.4" width="109.96" height="38.24" fill="#ebf1af"/><rect x="1121.88" y="1193.4" width="109.96" height="38.24" fill="#f2f5c0"/><rect x="1231.44" y="1193.4" width="109.96" height="38.24" fill="#faf9d5"/><rect x="1341" y="1193.4" width="109.96" height="38.24" fill="#f7f8cd"/><rect x="1450.56" y="1193.4" width="109.96" height="38.24" fill="#f8f8d0"/><rect x="1560.12" y="1193.4" width="109.96" height="38.24" fill="#f5f6c8"/><rect x="1669.68" y="1193.4" width="109.96" height="38.24" fill="#f2f5c0"/><rect x="1779.24" y="1193.4" width="109.96" height="38.24" fill="#fdfbdd"/>
<rect x="135.84" y="1231.24" width="657.76" height="38.24" fill="#202254"/><rect x="793.2" y="1231.24" width="109.96" height="38.24" fill="#fbfad8"/><rect x="902.76" y="1231.24" width="109.96" height="38.24" fill="#24429a"/><rect x="1012.32" y="1231.24" width="109.96" height="38.24" fill="#96d4b9"/><rect x="1121.88" y="1231.24" width="109.96" height="38.24" fill="#e3eeb0"/><rect x="1231.44" y="1231.24" width="109.96" height="38.24" fill="#cfe6b3"/><rect x="1341" y="1231.24" width="109.96" height="38.24" fill="#f8f8d0"/><rect x="1450.56" y="1231.24" width="109.96" height="38.24" fill="#3eb3c4"/><rect x="1560.12" y="1231.24" width="109.96" height="38.24" fill="#eff3b8"/><rect x="1669.68" y="1231.24" width="109.96" height="38.24" fill="#e7efb0"/><rect x="1779.24" y="1231.24" width="109.96" height="38.24" fill="#eff3b8"/>
<rect x="135.84" y="1269.08" width="657.76" height="38.24" fill="#202254"/><rect x="793.2" y="1269.08" width="109.96" height="38.24" fill="#fdfbdd"/><rect x="902.76" y="1269.08" width="219.52" height="38.24" fill="#202254"/><rect x="1121.88" y="1269.08" width="109.96" height="38.24" fill="#fdfbdd"/><rect x="1231.44" y="1269.08" width="109.96" height="38.24" fill="#f9f9d2"/><rect x="1341" y="1269.08" width="109.96" height="38.24" fill="#fdfbdd"/><rect x="1450.56" y="1269.08" width="109.96" height="38.24" fill="#f2f5c0"/><rect x="1560.12" y="1269.08" width="109.96" height="38.24" fill="#f7f8cd"/><rect x="1669.68" y="1269.08" width="109.96" height="38.24" fill="#fdfbdd"/><rect x="1779.24" y="1269.08" width="109.96" height="38.24" fill="#fcfada"/>
<rect x="135.84" y="1306.92" width="657.76" height="38.24" fill="#202254"/><rect x="793.2" y="1306.92" width="109.96" height="38.24" fill="#e1edb1"/><rect x="902.76" y="1306.92" width="109.96" height="38.24" fill="#f9f9d2"/><rect x="1012.32" y="1306.92" width="109.96" height="38.24" fill="#f8f8d0"/><rect x="1121.88" y="1306.92" width="329.08" height="38.24" fill="#fdfbdd"/><rect x="1450.56" y="1306.92" width="109.96" height="38.24" fill="#a6d9b7"/><rect x="1560.12" y="1306.92" width="109.96" height="38.24" fill="#fcfada"/><rect x="1669.68" y="1306.92" width="109.96" height="38.24" fill="#fdfbdd"/><rect x="1779.24" y="1306.92" width="109.96" height="38.24" fill="#ecf1b0"/>
<rect x="135.84" y="1344.76" width="657.76" height="38.24" fill="#202254"/><rect x="793.2" y="1344.76" width="109.96" height="38.24" fill="#fbfad8"/><rect x="902.76" y="1344.76" width="109.96" height="38.24" fill="#cbe5b4"/><rect x="1012.32" y="1344.76" width="109.96" height="38.24" fill="#43b7c4"/><rect x="1121.88" y="1344.76" width="109.96" height="38.24" fill="#fcfada"/><rect x="1231.44" y="1344.76" width="109.96" height="38.24" fill="#edf2b3"/><rect x="1341" y="1344.76" width="109.96" height="38.24" fill="#fdfbdd"/><rect x="1450.56" y="1344.76" width="109.96" height="38.24" fill="#f0f4bb"/><rect x="1560.12" y="1344.76" width="329.08" height="38.24" fill="#fdfbdd"/>
<rect x="135.84" y="1382.6" width="657.76" height="38.24" fill="#202254"/><rect x="793.2" y="1382.6" width="109.96" height="38.24" fill="#fdfbdd"/><rect x="902.76" y="1382.6" width="109.96" height="38.24" fill="#202254"/><rect x="1012.32" y="1382.6" width="438.64" height="38.24" fill="#fdfbdd"/><rect x="1450.56" y="1382.6" width="109.96" height="38.24" fill="#fcfada"/><rect x="1560.12" y="1382.6" width="109.96" height="38.24" fill="#fdfbdd"/><rect x="1669.68" y="1382.6" width="109.96" height="38.24" fill="#fcfada"/><rect x="1779.24" y="1382.6" width="109.96" height="38.24" fill="#fdfbdd"/>
<rect x="135.84" y="1420.44" width="657.76" height="38.24" fill="#202254"/><rect x="793.2" y="1420.44" width="109.96" height="38.24" fill="#fdfbdd"/><rect x="902.76" y="1420.44" width="109.96" height="38.24" fill="#202254"/><rect x="1012.32" y="1420.44" width="109.96" height="38.24" fill="#faf9d5"/><rect x="1121.88" y="1420.44" width="329.08" height="38.24" fill="#fdfbdd"/><rect x="1450.56" y="1420.44" width="109.96" height="38.24" fill="#f9f9d2"/><rect x="1560.12" y="1420.44" width="109.96" height="38.24" fill="#fdfbdd"/><rect x="1669.68" y="1420.44" width="109.96" height="38.24" fill="#fbfad8"/><rect x="1779.24" y="1420.44" width="109.96" height="38.24" fill="#fdfbdd"/>
<rect x="135.84" y="1458.28" width="657.76" height="38.24" fill="#202254"/><rect x="793.2" y="1458.28" width="109.96" height="38.24" fill="#f8f8d0"/><rect x="902.76" y="1458.28" width="109.96" height="38.24" fill="#e1edb1"/><rect x="1012.32" y="1458.28" width="109.96" height="38.24" fill="#31a6c2"/><rect x="1121.88" y="1458.28" width="109.96" height="38.24" fill="#d9eab2"/><rect x="1231.44" y="1458.28" width="109.96" height="38.24" fill="#ecf1b0"/><rect x="1341" y="1458.28" width="109.96" height="38.24" fill="#fbfad8"/><rect x="1450.56" y="1458.28" width="109.96" height="38.24" fill="#dfecb1"/><rect x="1560.12" y="1458.28" width="109.96" height="38.24" fill="#eff3b8"/><rect x="1669.68" y="1458.28" width="109.96" height="38.24" fill="#81cdbb"/><rect x="1779.24" y="1458.28" width="109.96" height="38.24" fill="#f0f4bb"/>
<rect x="135.84" y="1496.12" width="657.76" height="38.24" fill="#202254"/><rect x="793.2" y="1496.12" width="109.96" height="38.24" fill="#fcfada"/><rect x="902.76" y="1496.12" width="109.96" height="38.24" fill="#2070b1"/><rect x="1012.32" y="1496.12" width="109.96" height="38.24" fill="#202254"/><rect x="1121.88" y="1496.12" width="109.96" height="38.24" fill="#faf9d5"/><rect x="1231.44" y="1496.12" width="109.96" height="38.24" fill="#fbfad8"/><rect x="1341" y="1496.12" width="109.96" height="38.24" fill="#fdfbdd"/><rect x="1450.56" y="1496.12" width="109.96" height="38.24" fill="#f8f8d0"/><rect x="1560.12" y="1496.12" width="109.96" height="38.24" fill="#f9f9d2"/><rect x="1669.68" y="1496.12" width="109.96" height="38.24" fill="#fdfbdd"/><rect x="1779.24" y="1496.12" width="109.96" height="38.24" fill="#f8f8d0"/>
<rect x="135.84" y="1533.96" width="657.76" height="38.24" fill="#202254"/><rect x="793.2" y="1533.96" width="109.96" height="38.24" fill="#fbfad8"/><rect x="902.76" y="1533.96" width="109.96" height="38.24" fill="#232d7d"/><rect x="1012.32" y="1533.96" width="109.96" height="38.24" fill="#9ed6b8"/><rect x="1121.88" y="1533.96" width="219.52" height="38.24" fill="#f4f6c5"/><rect x="1341" y="1533.96" width="109.96" height="38.24" fill="#f3f5c3"/><rect x="1450.56" y="1533.96" width="109.96" height="38.24" fill="#abdab7"/><rect x="1560.12" y="1533.96" width="109.96" height="38.24" fill="#faf9d5"/><rect x="1669.68" y="1533.96" width="109.96" height="38.24" fill="#eff3b8"/><rect x="1779.24" y="1533.96" width="109.96" height="38.24" fill="#fbfad8"/>
<path class="gh" d="M136.04 1193.6H1889M136.04 1231.44H1889M136.04 1269.28H1889M136.04 1307.12H1889M136.04 1344.96H1889M136.04 1382.8H1889M136.04 1420.64H1889M136.04 1458.48H1889M136.04 1496.32H1889M136.04 1534.16H1889M136.04 1572H1889"/>
<path class="gv" d="M245.6 1193.6V1572M355.16 1193.6V1572M464.72 1193.6V1572M574.28 1193.6V1572M683.84 1193.6V1572M793.4 1193.6V1572M902.96 1193.6V1572M1012.52 1193.6V1572M1122.08 1193.6V1572M1231.64 1193.6V1572M1341.2 1193.6V1572M1450.76 1193.6V1572M1560.32 1193.6V1572M1669.88 1193.6V1572M1779.44 1193.6V1572"/>
<g class="an" transform="scale(0.935 1)">
<text class="w" x="204.09" y="1220.42">139</text><text class="w" x="321.26" y="1220.42">139</text><text class="w" x="438.44" y="1220.42">139</text><text class="w" x="555.61" y="1220.42">139</text><text class="w" x="672.79" y="1220.42">139</text><text class="w" x="789.97" y="1220.42">139</text><text class="k" x="907.14" y="1220.42">1</text><text class="k" x="1024.32" y="1220.42">2</text><text class="k" x="1141.5" y="1220.42">18</text><text class="k" x="1258.67" y="1220.42">11</text><text class="k" x="1375.85" y="1220.42">3</text><text class="k" x="1493.03" y="1220.42">6</text><text class="k" x="1610.2" y="1220.42">5</text><text class="k" x="1727.38" y="1220.42">8</text><text class="k" x="1844.56" y="1220.42">11</text><text class="k" x="1961.73" y="1220.42">0</text>
<text class="w" x="204.09" y="1258.26">139</text><text class="w" x="321.26" y="1258.26">139</text><text class="w" x="438.44" y="1258.26">139</text><text class="w" x="555.61" y="1258.26">139</text><text class="w" x="672.79" y="1258.26">139</text><text class="w" x="789.97" y="1258.26">139</text><text class="k" x="907.14" y="1258.26">2</text><text class="w" x="1024.32" y="1258.26">116</text><text class="k" x="1141.5" y="1258.26">47</text><text class="k" x="1258.67" y="1258.26">22</text><text class="k" x="1375.85" y="1258.26">32</text><text class="k" x="1493.03" y="1258.26">5</text><text class="w" x="1610.2" y="1258.26">71</text><text class="k" x="1727.38" y="1258.26">14</text><text class="k" x="1844.56" y="1258.26">20</text><text class="k" x="1961.73" y="1258.26">14</text>
<text class="w" x="204.09" y="1296.1">139</text><text class="w" x="321.26" y="1296.1">139</text><text class="w" x="438.44" y="1296.1">139</text><text class="w" x="555.61" y="1296.1">139</text><text class="w" x="672.79" y="1296.1">139</text><text class="w" x="789.97" y="1296.1">139</text><text class="k" x="907.14" y="1296.1">0</text><text class="w" x="1024.32" y="1296.1">139</text><text class="w" x="1141.5" y="1296.1">139</text><text class="k" x="1258.67" y="1296.1">0</text><text class="k" x="1375.85" y="1296.1">4</text><text class="k" x="1493.03" y="1296.1">0</text><text class="k" x="1610.2" y="1296.1">11</text><text class="k" x="1727.38" y="1296.1">6</text><text class="k" x="1844.56" y="1296.1">0</text><text class="k" x="1961.73" y="1296.1">1</text>
<text class="w" x="204.09" y="1333.94">139</text><text class="w" x="321.26" y="1333.94">139</text><text class="w" x="438.44" y="1333.94">139</text><text class="w" x="555.61" y="1333.94">139</text><text class="w" x="672.79" y="1333.94">139</text><text class="w" x="789.97" y="1333.94">139</text><text class="k" x="907.14" y="1333.94">23</text><text class="k" x="1024.32" y="1333.94">4</text><text class="k" x="1141.5" y="1333.94">5</text><text class="k" x="1258.67" y="1333.94">0</text><text class="k" x="1375.85" y="1333.94">0</text><text class="k" x="1493.03" y="1333.94">0</text><text class="k" x="1610.2" y="1333.94">43</text><text class="k" x="1727.38" y="1333.94">1</text><text class="k" x="1844.56" y="1333.94">0</text><text class="k" x="1961.73" y="1333.94">17</text>
<text class="w" x="204.09" y="1371.78">139</text><text class="w" x="321.26" y="1371.78">139</text><text class="w" x="438.44" y="1371.78">139</text><text class="w" x="555.61" y="1371.78">139</text><text class="w" x="672.79" y="1371.78">139</text><text class="w" x="789.97" y="1371.78">139</text><text class="k" x="907.14" y="1371.78">2</text><text class="k" x="1024.32" y="1371.78">34</text><text class="w" x="1141.5" y="1371.78">69</text><text class="k" x="1258.67" y="1371.78">1</text><text class="k" x="1375.85" y="1371.78">16</text><text class="k" x="1493.03" y="1371.78">0</text><text class="k" x="1610.2" y="1371.78">13</text><text class="k" x="1727.38" y="1371.78">0</text><text class="k" x="1844.56" y="1371.78">0</text><text class="k" x="1961.73" y="1371.78">0</text>
<text class="w" x="204.09" y="1409.62">139</text><text class="w" x="321.26" y="1409.62">139</text><text class="w" x="438.44" y="1409.62">139</text><text class="w" x="555.61" y="1409.62">139</text><text class="w" x="672.79" y="1409.62">139</text><text class="w" x="789.97" y="1409.62">139</text><text class="k" x="907.14" y="1409.62">0</text><text class="w" x="1024.32" y="1409.62">139</text><text class="k" x="1141.5" y="1409.62">0</text><text class="k" x="1258.67" y="1409.62">0</text><text class="k" x="1375.85" y="1409.62">0</text><text class="k" x="1493.03" y="1409.62">0</text><text class="k" x="1610.2" y="1409.62">1</text><text class="k" x="1727.38" y="1409.62">0</text><text class="k" x="1844.56" y="1409.62">1</text><text class="k" x="1961.73" y="1409.62">0</text>
<text class="w" x="204.09" y="1447.46">139</text><text class="w" x="321.26" y="1447.46">139</text><text class="w" x="438.44" y="1447.46">139</text><text class="w" x="555.61" y="1447.46">139</text><text class="w" x="672.79" y="1447.46">139</text><text class="w" x="789.97" y="1447.46">139</text><text class="k" x="907.14" y="1447.46">0</text><text class="w" x="1024.32" y="1447.46">139</text><text class="k" x="1141.5" y="1447.46">3</text><text class="k" x="1258.67" y="1447.46">0</text><text class="k" x="1375.85" y="1447.46">0</text><text class="k" x="1493.03" y="1447.46">0</text><text class="k" x="1610.2" y="1447.46">4</text><text class="k" x="1727.38" y="1447.46">0</text><text class="k" x="1844.56" y="1447.46">2</text><text class="k" x="1961.73" y="1447.46">0</text>
<text class="w" x="204.09" y="1485.3">139</text><text class="w" x="321.26" y="1485.3">139</text><text class="w" x="438.44" y="1485.3">139</text><text class="w" x="555.61" y="1485.3">139</text><text class="w" x="672.79" y="1485.3">139</text><text class="w" x="789.97" y="1485.3">139</text><text class="k" x="907.14" y="1485.3">5</text><text class="k" x="1024.32" y="1485.3">23</text><text class="w" x="1141.5" y="1485.3">77</text><text class="k" x="1258.67" y="1485.3">27</text><text class="k" x="1375.85" y="1485.3">17</text><text class="k" x="1493.03" y="1485.3">2</text><text class="k" x="1610.2" y="1485.3">24</text><text class="k" x="1727.38" y="1485.3">14</text><text class="k" x="1844.56" y="1485.3">52</text><text class="k" x="1961.73" y="1485.3">13</text>
<text class="w" x="204.09" y="1523.14">139</text><text class="w" x="321.26" y="1523.14">139</text><text class="w" x="438.44" y="1523.14">139</text><text class="w" x="555.61" y="1523.14">139</text><text class="w" x="672.79" y="1523.14">139</text><text class="w" x="789.97" y="1523.14">139</text><text class="k" x="907.14" y="1523.14">1</text><text class="w" x="1024.32" y="1523.14">98</text><text class="w" x="1141.5" y="1523.14">139</text><text class="k" x="1258.67" y="1523.14">3</text><text class="k" x="1375.85" y="1523.14">2</text><text class="k" x="1493.03" y="1523.14">0</text><text class="k" x="1610.2" y="1523.14">5</text><text class="k" x="1727.38" y="1523.14">4</text><text class="k" x="1844.56" y="1523.14">0</text><text class="k" x="1961.73" y="1523.14">5</text>
<text class="w" x="204.09" y="1560.98">139</text><text class="w" x="321.26" y="1560.98">139</text><text class="w" x="438.44" y="1560.98">139</text><text class="w" x="555.61" y="1560.98">139</text><text class="w" x="672.79" y="1560.98">139</text><text class="w" x="789.97" y="1560.98">139</text><text class="k" x="907.14" y="1560.98">2</text><text class="w" x="1024.32" y="1560.98">128</text><text class="k" x="1141.5" y="1560.98">45</text><text class="k" x="1258.67" y="1560.98">9</text><text class="k" x="1375.85" y="1560.98">9</text><text class="k" x="1493.03" y="1560.98">10</text><text class="k" x="1610.2" y="1560.98">42</text><text class="k" x="1727.38" y="1560.98">3</text><text class="k" x="1844.56" y="1560.98">14</text><text class="k" x="1961.73" y="1560.98">2</text>
</g>
<text class="yt" x="122.4" y="1221.72">DT</text><text class="yt" x="122.4" y="1259.56">GB</text><text class="yt" x="122.4" y="1297.4">GPR</text><text class="yt" x="122.4" y="1335.24">KNN</text><text class="yt" x="122.4" y="1373.08">KRR</text><text class="yt" x="122.4" y="1410.92">MLR</text><text class="yt" x="122.4" y="1448.76">PLS</text><text class="yt" x="122.4" y="1486.6">RF</text><text class="yt" x="122.4" y="1524.44">SVM</text><text class="yt" x="122.4" y="1562.28">XGB</text>
<text class="xt" transform="translate(199.82 1585.6) rotate(-90)">CT28</text><text class="xt" transform="translate(309.38 1585.6) rotate(-90)">CC28</text><text class="xt" transform="translate(418.94 1585.6) rotate(-90)">IM</text><text class="xt" transform="translate(528.5 1585.6) rotate(-90)">CT1</text><text class="xt" transform="translate(638.06 1585.6) rotate(-90)">AC</text><text class="xt" transform="translate(747.62 1585.6) rotate(-90)">DB</text><text class="xt" transform="translate(857.18 1585.6) rotate(-90)">APW</text><text class="xt" transform="translate(966.74 1585.6) rotate(-90)">GRP</text><text class="xt" transform="translate(1076.3 1585.6) rotate(-90)">IT</text><text class="xt" transform="translate(1185.86 1585.6) rotate(-90)">FL I</text><text class="xt" transform="translate(1295.42 1585.6) rotate(-90)">SA I</text><text class="xt" transform="translate(1404.98 1585.6) rotate(-90)">SPP</text><text class="xt" transform="translate(1514.54 1585.6) rotate(-90)">EC</text><text class="xt" transform="translate(1624.1 1585.6) rotate(-90)">FR</text><text class="xt" transform="translate(1733.66 1585.6) rotate(-90)">CC1</text><text class="xt" transform="translate(1843.22 1585.6) rotate(-90)">SF</text>
<rect x="1910.25" y="1193.6" width="19.4" height="378.4" fill="url(#cbg)"/>
<text class="cb" transform="translate(1942.5 1582.4) scale(0.93 1)">0</text><text class="cb" transform="translate(1942.5 1514.34) scale(0.93 1)">25</text><text class="cb" transform="translate(1942.5 1446.28) scale(0.93 1)">50</text><text class="cb" transform="translate(1942.5 1378.23) scale(0.93 1)">75</text><text class="cb" transform="translate(1942.5 1310.17) scale(0.93 1)">100</text><text class="cb" transform="translate(1942.5 1242.11) scale(0.93 1)">125</text>
<path class="tk" d="M127.94 1212.52H136.04M127.94 1250.36H136.04M127.94 1288.2H136.04M127.94 1326.04H136.04M127.94 1363.88H136.04M127.94 1401.72H136.04M127.94 1439.56H136.04M127.94 1477.4H136.04M127.94 1515.24H136.04M127.94 1553.08H136.04M190.82 1572V1580.1M300.38 1572V1580.1M409.94 1572V1580.1M519.5 1572V1580.1M629.06 1572V1580.1M738.62 1572V1580.1M848.18 1572V1580.1M957.74 1572V1580.1M1067.3 1572V1580.1M1176.86 1572V1580.1M1286.42 1572V1580.1M1395.98 1572V1580.1M1505.54 1572V1580.1M1615.1 1572V1580.1M1724.66 1572V1580.1M1834.22 1572V1580.1M1929.25 1572H1936.65M1929.25 1503.94H1936.65M1929.25 1435.88H1936.65M1929.25 1367.83H1936.65M1929.25 1299.77H1936.65M1929.25 1231.71H1936.65"/>
<text class="al" transform="translate(26.6 1383.3) rotate(-90)">Model</text>
<text class="al" x="1012.6" y="1706.4">Feature</text>
<text class="cap" y="1755.55"><tspan class="pr" x="998.85" y="1756.55">(</tspan><tspan x="1012.8" y="1755.55">c</tspan><tspan class="pr" x="1027.1" y="1756.55">)</tspan></text>
</g>
<g>
<rect x="135.84" y="1773.4" width="219.52" height="38.24" fill="#202254"/><rect x="354.96" y="1773.4" width="109.96" height="38.24" fill="#cbe5b4"/><rect x="464.52" y="1773.4" width="109.96" height="38.24" fill="#51bcc2"/><rect x="574.08" y="1773.4" width="109.96" height="38.24" fill="#faf9d5"/><rect x="683.64" y="1773.4" width="109.96" height="38.24" fill="#3cb1c3"/><rect x="793.2" y="1773.4" width="109.96" height="38.24" fill="#85cebb"/><rect x="902.76" y="1773.4" width="109.96" height="38.24" fill="#d9eab2"/><rect x="1012.32" y="1773.4" width="109.96" height="38.24" fill="#d3e8b3"/><rect x="1121.88" y="1773.4" width="109.96" height="38.24" fill="#d7e9b2"/><rect x="1231.44" y="1773.4" width="109.96" height="38.24" fill="#eef2b5"/><rect x="1341" y="1773.4" width="109.96" height="38.24" fill="#ebf1af"/><rect x="1450.56" y="1773.4" width="109.96" height="38.24" fill="#e7efb0"/><rect x="1560.12" y="1773.4" width="109.96" height="38.24" fill="#edf2b3"/><rect x="1669.68" y="1773.4" width="109.96" height="38.24" fill="#d1e7b3"/><rect x="1779.24" y="1773.4" width="109.96" height="38.24" fill="#fbfad8"/>
<rect x="135.84" y="1811.24" width="219.52" height="38.24" fill="#202254"/><rect x="354.96" y="1811.24" width="109.96" height="38.24" fill="#cde5b3"/><rect x="464.52" y="1811.24" width="109.96" height="38.24" fill="#2073b2"/><rect x="574.08" y="1811.24" width="109.96" height="38.24" fill="#e1edb1"/><rect x="683.64" y="1811.24" width="109.96" height="38.24" fill="#2353a3"/><rect x="793.2" y="1811.24" width="109.96" height="38.24" fill="#e1edb1"/><rect x="902.76" y="1811.24" width="109.96" height="38.24" fill="#1d91c0"/><rect x="1012.32" y="1811.24" width="109.96" height="38.24" fill="#5cc0c0"/><rect x="1121.88" y="1811.24" width="109.96" height="38.24" fill="#cfe6b3"/><rect x="1231.44" y="1811.24" width="109.96" height="38.24" fill="#d5e8b2"/><rect x="1341" y="1811.24" width="109.96" height="38.24" fill="#f6f7ca"/><rect x="1450.56" y="1811.24" width="109.96" height="38.24" fill="#cde5b3"/><rect x="1560.12" y="1811.24" width="109.96" height="38.24" fill="#cbe5b4"/><rect x="1669.68" y="1811.24" width="109.96" height="38.24" fill="#d1e7b3"/><rect x="1779.24" y="1811.24" width="109.96" height="38.24" fill="#cfe6b3"/>
<rect x="135.84" y="1849.08" width="219.52" height="38.24" fill="#202254"/><rect x="354.96" y="1849.08" width="109.96" height="38.24" fill="#2168ac"/><rect x="464.52" y="1849.08" width="109.96" height="38.24" fill="#1f7cb6"/><rect x="574.08" y="1849.08" width="109.96" height="38.24" fill="#3eb3c4"/><rect x="683.64" y="1849.08" width="109.96" height="38.24" fill="#38acc3"/><rect x="793.2" y="1849.08" width="109.96" height="38.24" fill="#89d0ba"/><rect x="902.76" y="1849.08" width="109.96" height="38.24" fill="#63c3bf"/><rect x="1012.32" y="1849.08" width="109.96" height="38.24" fill="#51bcc2"/><rect x="1121.88" y="1849.08" width="109.96" height="38.24" fill="#c4e2b5"/><rect x="1231.44" y="1849.08" width="109.96" height="38.24" fill="#89d0ba"/><rect x="1341" y="1849.08" width="109.96" height="38.24" fill="#d5e8b2"/><rect x="1450.56" y="1849.08" width="109.96" height="38.24" fill="#dbebb1"/><rect x="1560.12" y="1849.08" width="109.96" height="38.24" fill="#b7deb6"/><rect x="1669.68" y="1849.08" width="109.96" height="38.24" fill="#d5e8b2"/><rect x="1779.24" y="1849.08" width="109.96" height="38.24" fill="#d1e7b3"/>
<rect x="135.84" y="1886.92" width="219.52" height="38.24" fill="#202254"/><rect x="354.96" y="1886.92" width="109.96" height="38.24" fill="#ecf1b0"/><rect x="464.52" y="1886.92" width="109.96" height="38.24" fill="#dbebb1"/><rect x="574.08" y="1886.92" width="109.96" height="38.24" fill="#e1edb1"/><rect x="683.64" y="1886.92" width="109.96" height="38.24" fill="#f5f6c8"/><rect x="793.2" y="1886.92" width="109.96" height="38.24" fill="#2165ab"/><rect x="902.76" y="1886.92" width="109.96" height="38.24" fill="#f7f8cd"/><rect x="1012.32" y="1886.92" width="219.52" height="38.24" fill="#f8f8d0"/><rect x="1231.44" y="1886.92" width="109.96" height="38.24" fill="#fbfad8"/><rect x="1341" y="1886.92" width="109.96" height="38.24" fill="#fcfada"/><rect x="1450.56" y="1886.92" width="109.96" height="38.24" fill="#e3eeb0"/><rect x="1560.12" y="1886.92" width="109.96" height="38.24" fill="#dbebb1"/><rect x="1669.68" y="1886.92" width="109.96" height="38.24" fill="#faf9d5"/><rect x="1779.24" y="1886.92" width="109.96" height="38.24" fill="#e7efb0"/>
<rect x="135.84" y="1924.76" width="219.52" height="38.24" fill="#202254"/><rect x="354.96" y="1924.76" width="109.96" height="38.24" fill="#a2d8b8"/><rect x="464.52" y="1924.76" width="109.96" height="38.24" fill="#91d2b9"/><rect x="574.08" y="1924.76" width="219.52" height="38.24" fill="#dbebb1"/><rect x="793.2" y="1924.76" width="109.96" height="38.24" fill="#7dccbb"/><rect x="902.76" y="1924.76" width="109.96" height="38.24" fill="#ddebb1"/><rect x="1012.32" y="1924.76" width="109.96" height="38.24" fill="#edf2b3"/><rect x="1121.88" y="1924.76" width="109.96" height="38.24" fill="#f0f4bb"/><rect x="1231.44" y="1924.76" width="109.96" height="38.24" fill="#e7efb0"/><rect x="1341" y="1924.76" width="109.96" height="38.24" fill="#f7f8cd"/><rect x="1450.56" y="1924.76" width="109.96" height="38.24" fill="#eff3b8"/><rect x="1560.12" y="1924.76" width="109.96" height="38.24" fill="#edf2b3"/><rect x="1669.68" y="1924.76" width="109.96" height="38.24" fill="#f4f6c5"/><rect x="1779.24" y="1924.76" width="109.96" height="38.24" fill="#dbebb1"/>
<rect x="135.84" y="1962.6" width="219.52" height="38.24" fill="#202254"/><rect x="354.96" y="1962.6" width="109.96" height="38.24" fill="#1f79b5"/><rect x="464.52" y="1962.6" width="109.96" height="38.24" fill="#40b5c4"/><rect x="574.08" y="1962.6" width="109.96" height="38.24" fill="#4ebbc2"/><rect x="683.64" y="1962.6" width="109.96" height="38.24" fill="#40b5c4"/><rect x="793.2" y="1962.6" width="109.96" height="38.24" fill="#91d2b9"/><rect x="902.76" y="1962.6" width="109.96" height="38.24" fill="#9ad5b9"/><rect x="1012.32" y="1962.6" width="109.96" height="38.24" fill="#d1e7b3"/><rect x="1121.88" y="1962.6" width="109.96" height="38.24" fill="#f6f7ca"/><rect x="1231.44" y="1962.6" width="109.96" height="38.24" fill="#d7e9b2"/><rect x="1341" y="1962.6" width="219.52" height="38.24" fill="#f2f5c0"/><rect x="1560.12" y="1962.6" width="109.96" height="38.24" fill="#e9f0af"/><rect x="1669.68" y="1962.6" width="109.96" height="38.24" fill="#e5eeb0"/><rect x="1779.24" y="1962.6" width="109.96" height="38.24" fill="#faf9d5"/>
<rect x="135.84" y="2000.44" width="219.52" height="38.24" fill="#202254"/><rect x="354.96" y="2000.44" width="109.96" height="38.24" fill="#2168ac"/><rect x="464.52" y="2000.44" width="109.96" height="38.24" fill="#36aac3"/><rect x="574.08" y="2000.44" width="109.96" height="38.24" fill="#1f79b5"/><rect x="683.64" y="2000.44" width="109.96" height="38.24" fill="#81cdbb"/><rect x="793.2" y="2000.44" width="109.96" height="38.24" fill="#3cb1c3"/><rect x="902.76" y="2000.44" width="109.96" height="38.24" fill="#c8e4b4"/><rect x="1012.32" y="2000.44" width="109.96" height="38.24" fill="#f0f4bb"/><rect x="1121.88" y="2000.44" width="109.96" height="38.24" fill="#f2f5c0"/><rect x="1231.44" y="2000.44" width="109.96" height="38.24" fill="#dbebb1"/><rect x="1341" y="2000.44" width="109.96" height="38.24" fill="#eef2b5"/><rect x="1450.56" y="2000.44" width="109.96" height="38.24" fill="#ddebb1"/><rect x="1560.12" y="2000.44" width="109.96" height="38.24" fill="#e5eeb0"/><rect x="1669.68" y="2000.44" width="109.96" height="38.24" fill="#ecf1b0"/><rect x="1779.24" y="2000.44" width="109.96" height="38.24" fill="#edf2b3"/>
<rect x="135.84" y="2038.28" width="219.52" height="38.24" fill="#202254"/><rect x="354.96" y="2038.28" width="109.96" height="38.24" fill="#c0e1b5"/><rect x="464.52" y="2038.28" width="109.96" height="38.24" fill="#b3ddb6"/><rect x="574.08" y="2038.28" width="109.96" height="38.24" fill="#f1f4bd"/><rect x="683.64" y="2038.28" width="109.96" height="38.24" fill="#1f93c0"/><rect x="793.2" y="2038.28" width="109.96" height="38.24" fill="#bbe0b5"/><rect x="902.76" y="2038.28" width="109.96" height="38.24" fill="#ebf1af"/><rect x="1012.32" y="2038.28" width="109.96" height="38.24" fill="#eff3b8"/><rect x="1121.88" y="2038.28" width="109.96" height="38.24" fill="#e7efb0"/><rect x="1231.44" y="2038.28" width="109.96" height="38.24" fill="#f8f8d0"/><rect x="1341" y="2038.28" width="109.96" height="38.24" fill="#fdfbdd"/><rect x="1450.56" y="2038.28" width="109.96" height="38.24" fill="#f4f6c5"/><rect x="1560.12" y="2038.28" width="109.96" height="38.24" fill="#f6f7ca"/><rect x="1669.68" y="2038.28" width="109.96" height="38.24" fill="#e5eeb0"/><rect x="1779.24" y="2038.28" width="109.96" height="38.24" fill="#f8f8d0"/>
<rect x="135.84" y="2076.12" width="219.52" height="38.24" fill="#202254"/><rect x="354.96" y="2076.12" width="109.96" height="38.24" fill="#3cb1c3"/><rect x="464.52" y="2076.12" width="109.96" height="38.24" fill="#2fa4c2"/><rect x="574.08" y="2076.12" width="109.96" height="38.24" fill="#7dccbb"/><rect x="683.64" y="2076.12" width="109.96" height="38.24" fill="#2da2c2"/><rect x="793.2" y="2076.12" width="109.96" height="38.24" fill="#76c9bc"/><rect x="902.76" y="2076.12" width="109.96" height="38.24" fill="#a2d8b8"/><rect x="1012.32" y="2076.12" width="109.96" height="38.24" fill="#76c9bc"/><rect x="1121.88" y="2076.12" width="109.96" height="38.24" fill="#ddebb1"/><rect x="1231.44" y="2076.12" width="109.96" height="38.24" fill="#d3e8b3"/><rect x="1341" y="2076.12" width="109.96" height="38.24" fill="#eef2b5"/><rect x="1450.56" y="2076.12" width="109.96" height="38.24" fill="#f0f4bb"/><rect x="1560.12" y="2076.12" width="109.96" height="38.24" fill="#e9f0af"/><rect x="1669.68" y="2076.12" width="109.96" height="38.24" fill="#eff3b8"/><rect x="1779.24" y="2076.12" width="109.96" height="38.24" fill="#ddebb1"/>
<rect x="135.84" y="2113.96" width="219.52" height="38.24" fill="#202254"/><rect x="354.96" y="2113.96" width="109.96" height="38.24" fill="#b3ddb6"/><rect x="464.52" y="2113.96" width="109.96" height="38.24" fill="#253896"/><rect x="574.08" y="2113.96" width="109.96" height="38.24" fill="#f1f4bd"/><rect x="683.64" y="2113.96" width="109.96" height="38.24" fill="#1f79b5"/><rect x="793.2" y="2113.96" width="109.96" height="38.24" fill="#edf2b3"/><rect x="902.76" y="2113.96" width="109.96" height="38.24" fill="#40b5c4"/><rect x="1012.32" y="2113.96" width="109.96" height="38.24" fill="#b3ddb6"/><rect x="1121.88" y="2113.96" width="109.96" height="38.24" fill="#c0e1b5"/><rect x="1231.44" y="2113.96" width="109.96" height="38.24" fill="#c4e2b5"/><rect x="1341" y="2113.96" width="109.96" height="38.24" fill="#f1f4bd"/><rect x="1450.56" y="2113.96" width="109.96" height="38.24" fill="#b7deb6"/><rect x="1560.12" y="2113.96" width="109.96" height="38.24" fill="#d7e9b2"/><rect x="1669.68" y="2113.96" width="109.96" height="38.24" fill="#d1e7b3"/><rect x="1779.24" y="2113.96" width="109.96" height="38.24" fill="#edf2b3"/>
<path class="gh" d="M136.04 1773.6H1889M136.04 1811.44H1889M136.04 1849.28H1889M136.04 1887.12H1889M136.04 1924.96H1889M136.04 1962.8H1889M136.04 2000.64H1889M136.04 2038.48H1889M136.04 2076.32H1889M136.04 2114.16H1889M136.04 2152H1889"/>
<path class="gv" d="M245.6 1773.6V2152M355.16 1773.6V2152M464.72 1773.6V2152M574.28 1773.6V2152M683.84 1773.6V2152M793.4 1773.6V2152M902.96 1773.6V2152M1012.52 1773.6V2152M1122.08 1773.6V2152M1231.64 1773.6V2152M1341.2 1773.6V2152M1450.76 1773.6V2152M1560.32 1773.6V2152M1669.88 1773.6V2152M1779.44 1773.6V2152"/>
<g class="an" transform="scale(0.935 1)">
<text class="w" x="204.09" y="1800.42">139</text><text class="w" x="321.26" y="1800.42">139</text><text class="k" x="438.44" y="1800.42">34</text><text class="k" x="555.61" y="1800.42">65</text><text class="k" x="672.79" y="1800.42">3</text><text class="w" x="789.97" y="1800.42">72</text><text class="k" x="907.14" y="1800.42">51</text><text class="k" x="1024.32" y="1800.42">27</text><text class="k" x="1141.5" y="1800.42">30</text><text class="k" x="1258.67" y="1800.42">28</text><text class="k" x="1375.85" y="1800.42">15</text><text class="k" x="1493.03" y="1800.42">18</text><text class="k" x="1610.2" y="1800.42">20</text><text class="k" x="1727.38" y="1800.42">16</text><text class="k" x="1844.56" y="1800.42">31</text><text class="k" x="1961.73" y="1800.42">2</text>
<text class="w" x="204.09" y="1838.26">139</text><text class="w" x="321.26" y="1838.26">139</text><text class="k" x="438.44" y="1838.26">33</text><text class="w" x="555.61" y="1838.26">97</text><text class="k" x="672.79" y="1838.26">23</text><text class="w" x="789.97" y="1838.26">109</text><text class="k" x="907.14" y="1838.26">23</text><text class="w" x="1024.32" y="1838.26">87</text><text class="k" x="1141.5" y="1838.26">62</text><text class="k" x="1258.67" y="1838.26">32</text><text class="k" x="1375.85" y="1838.26">29</text><text class="k" x="1493.03" y="1838.26">7</text><text class="k" x="1610.2" y="1838.26">33</text><text class="k" x="1727.38" y="1838.26">34</text><text class="k" x="1844.56" y="1838.26">31</text><text class="k" x="1961.73" y="1838.26">32</text>
<text class="w" x="204.09" y="1876.1">139</text><text class="w" x="321.26" y="1876.1">139</text><text class="w" x="438.44" y="1876.1">101</text><text class="w" x="555.61" y="1876.1">94</text><text class="w" x="672.79" y="1876.1">71</text><text class="w" x="789.97" y="1876.1">74</text><text class="k" x="907.14" y="1876.1">50</text><text class="k" x="1024.32" y="1876.1">60</text><text class="k" x="1141.5" y="1876.1">65</text><text class="k" x="1258.67" y="1876.1">36</text><text class="k" x="1375.85" y="1876.1">50</text><text class="k" x="1493.03" y="1876.1">29</text><text class="k" x="1610.2" y="1876.1">26</text><text class="k" x="1727.38" y="1876.1">39</text><text class="k" x="1844.56" y="1876.1">29</text><text class="k" x="1961.73" y="1876.1">31</text>
<text class="w" x="204.09" y="1913.94">139</text><text class="w" x="321.26" y="1913.94">139</text><text class="k" x="438.44" y="1913.94">17</text><text class="k" x="555.61" y="1913.94">26</text><text class="k" x="672.79" y="1913.94">23</text><text class="k" x="789.97" y="1913.94">8</text><text class="w" x="907.14" y="1913.94">102</text><text class="k" x="1024.32" y="1913.94">6</text><text class="k" x="1141.5" y="1913.94">5</text><text class="k" x="1258.67" y="1913.94">5</text><text class="k" x="1375.85" y="1913.94">2</text><text class="k" x="1493.03" y="1913.94">1</text><text class="k" x="1610.2" y="1913.94">22</text><text class="k" x="1727.38" y="1913.94">26</text><text class="k" x="1844.56" y="1913.94">3</text><text class="k" x="1961.73" y="1913.94">20</text>
<text class="w" x="204.09" y="1951.78">139</text><text class="w" x="321.26" y="1951.78">139</text><text class="k" x="438.44" y="1951.78">44</text><text class="k" x="555.61" y="1951.78">48</text><text class="k" x="672.79" y="1951.78">26</text><text class="k" x="789.97" y="1951.78">26</text><text class="k" x="907.14" y="1951.78">53</text><text class="k" x="1024.32" y="1951.78">25</text><text class="k" x="1141.5" y="1951.78">16</text><text class="k" x="1258.67" y="1951.78">13</text><text class="k" x="1375.85" y="1951.78">20</text><text class="k" x="1493.03" y="1951.78">6</text><text class="k" x="1610.2" y="1951.78">14</text><text class="k" x="1727.38" y="1951.78">16</text><text class="k" x="1844.56" y="1951.78">9</text><text class="k" x="1961.73" y="1951.78">26</text>
<text class="w" x="204.09" y="1989.62">139</text><text class="w" x="321.26" y="1989.62">139</text><text class="w" x="438.44" y="1989.62">95</text><text class="w" x="555.61" y="1989.62">70</text><text class="k" x="672.79" y="1989.62">66</text><text class="w" x="789.97" y="1989.62">70</text><text class="k" x="907.14" y="1989.62">48</text><text class="k" x="1024.32" y="1989.62">46</text><text class="k" x="1141.5" y="1989.62">31</text><text class="k" x="1258.67" y="1989.62">7</text><text class="k" x="1375.85" y="1989.62">28</text><text class="k" x="1493.03" y="1989.62">11</text><text class="k" x="1610.2" y="1989.62">11</text><text class="k" x="1727.38" y="1989.62">19</text><text class="k" x="1844.56" y="1989.62">21</text><text class="k" x="1961.73" y="1989.62">3</text>
<text class="w" x="204.09" y="2027.46">139</text><text class="w" x="321.26" y="2027.46">139</text><text class="w" x="438.44" y="2027.46">101</text><text class="w" x="555.61" y="2027.46">75</text><text class="w" x="672.79" y="2027.46">95</text><text class="k" x="789.97" y="2027.46">52</text><text class="w" x="907.14" y="2027.46">72</text><text class="k" x="1024.32" y="2027.46">35</text><text class="k" x="1141.5" y="2027.46">13</text><text class="k" x="1258.67" y="2027.46">11</text><text class="k" x="1375.85" y="2027.46">26</text><text class="k" x="1493.03" y="2027.46">15</text><text class="k" x="1610.2" y="2027.46">25</text><text class="k" x="1727.38" y="2027.46">21</text><text class="k" x="1844.56" y="2027.46">17</text><text class="k" x="1961.73" y="2027.46">16</text>
<text class="w" x="204.09" y="2065.3">139</text><text class="w" x="321.26" y="2065.3">139</text><text class="k" x="438.44" y="2065.3">37</text><text class="k" x="555.61" y="2065.3">40</text><text class="k" x="672.79" y="2065.3">12</text><text class="w" x="789.97" y="2065.3">86</text><text class="k" x="907.14" y="2065.3">38</text><text class="k" x="1024.32" y="2065.3">18</text><text class="k" x="1141.5" y="2065.3">14</text><text class="k" x="1258.67" y="2065.3">20</text><text class="k" x="1375.85" y="2065.3">5</text><text class="k" x="1493.03" y="2065.3">0</text><text class="k" x="1610.2" y="2065.3">9</text><text class="k" x="1727.38" y="2065.3">7</text><text class="k" x="1844.56" y="2065.3">21</text><text class="k" x="1961.73" y="2065.3">5</text>
<text class="w" x="204.09" y="2103.14">139</text><text class="w" x="321.26" y="2103.14">139</text><text class="w" x="438.44" y="2103.14">72</text><text class="w" x="555.61" y="2103.14">78</text><text class="k" x="672.79" y="2103.14">53</text><text class="w" x="789.97" y="2103.14">79</text><text class="k" x="907.14" y="2103.14">55</text><text class="k" x="1024.32" y="2103.14">44</text><text class="k" x="1141.5" y="2103.14">55</text><text class="k" x="1258.67" y="2103.14">25</text><text class="k" x="1375.85" y="2103.14">30</text><text class="k" x="1493.03" y="2103.14">15</text><text class="k" x="1610.2" y="2103.14">13</text><text class="k" x="1727.38" y="2103.14">19</text><text class="k" x="1844.56" y="2103.14">14</text><text class="k" x="1961.73" y="2103.14">25</text>
<text class="w" x="204.09" y="2140.98">139</text><text class="w" x="321.26" y="2140.98">139</text><text class="k" x="438.44" y="2140.98">40</text><text class="w" x="555.61" y="2140.98">120</text><text class="k" x="672.79" y="2140.98">12</text><text class="w" x="789.97" y="2140.98">95</text><text class="k" x="907.14" y="2140.98">16</text><text class="w" x="1024.32" y="2140.98">70</text><text class="k" x="1141.5" y="2140.98">40</text><text class="k" x="1258.67" y="2140.98">37</text><text class="k" x="1375.85" y="2140.98">36</text><text class="k" x="1493.03" y="2140.98">12</text><text class="k" x="1610.2" y="2140.98">39</text><text class="k" x="1727.38" y="2140.98">28</text><text class="k" x="1844.56" y="2140.98">31</text><text class="k" x="1961.73" y="2140.98">16</text>
</g>
<text class="yt" x="122.4" y="1801.72">DT</text><text class="yt" x="122.4" y="1839.56">GB</text><text class="yt" x="122.4" y="1877.4">GPR</text><text class="yt" x="122.4" y="1915.24">KNN</text><text class="yt" x="122.4" y="1953.08">KRR</text><text class="yt" x="122.4" y="1990.92">MLR</text><text class="yt" x="122.4" y="2028.76">PLS</text><text class="yt" x="122.4" y="2066.6">RF</text><text class="yt" x="122.4" y="2104.44">SVM</text><text class="yt" x="122.4" y="2142.28">XGB</text>
<text class="xt" transform="translate(199.82 2165.6) rotate(-90)">CT28</text><text class="xt" transform="translate(309.38 2165.6) rotate(-90)">CC28</text><text class="xt" transform="translate(418.94 2165.6) rotate(-90)">IM</text><text class="xt" transform="translate(528.5 2165.6) rotate(-90)">CT1</text><text class="xt" transform="translate(638.06 2165.6) rotate(-90)">AC</text><text class="xt" transform="translate(747.62 2165.6) rotate(-90)">DB</text><text class="xt" transform="translate(857.18 2165.6) rotate(-90)">APW</text><text class="xt" transform="translate(966.74 2165.6) rotate(-90)">GRP</text><text class="xt" transform="translate(1076.3 2165.6) rotate(-90)">IT</text><text class="xt" transform="translate(1185.86 2165.6) rotate(-90)">FL I</text><text class="xt" transform="translate(1295.42 2165.6) rotate(-90)">SA I</text><text class="xt" transform="translate(1404.98 2165.6) rotate(-90)">SPP</text><text class="xt" transform="translate(1514.54 2165.6) rotate(-90)">EC</text><text class="xt" transform="translate(1624.1 2165.6) rotate(-90)">FR</text><text class="xt" transform="translate(1733.66 2165.6) rotate(-90)">CC1</text><text class="xt" transform="translate(1843.22 2165.6) rotate(-90)">SF</text>
<rect x="1910.25" y="1773.6" width="19.4" height="378.4" fill="url(#cbg)"/>
<text class="cb" transform="translate(1942.5 2162.4) scale(0.93 1)">0</text><text class="cb" transform="translate(1942.5 2094.34) scale(0.93 1)">25</text><text class="cb" transform="translate(1942.5 2026.28) scale(0.93 1)">50</text><text class="cb" transform="translate(1942.5 1958.23) scale(0.93 1)">75</text><text class="cb" transform="translate(1942.5 1890.17) scale(0.93 1)">100</text><text class="cb" transform="translate(1942.5 1822.11) scale(0.93 1)">125</text>
<path class="tk" d="M127.94 1792.52H136.04M127.94 1830.36H136.04M127.94 1868.2H136.04M127.94 1906.04H136.04M127.94 1943.88H136.04M127.94 1981.72H136.04M127.94 2019.56H136.04M127.94 2057.4H136.04M127.94 2095.24H136.04M127.94 2133.08H136.04M190.82 2152V2160.1M300.38 2152V2160.1M409.94 2152V2160.1M519.5 2152V2160.1M629.06 2152V2160.1M738.62 2152V2160.1M848.18 2152V2160.1M957.74 2152V2160.1M1067.3 2152V2160.1M1176.86 2152V2160.1M1286.42 2152V2160.1M1395.98 2152V2160.1M1505.54 2152V2160.1M1615.1 2152V2160.1M1724.66 2152V2160.1M1834.22 2152V2160.1M1929.25 2152H1936.65M1929.25 2083.94H1936.65M1929.25 2015.88H1936.65M1929.25 1947.83H1936.65M1929.25 1879.77H1936.65M1929.25 1811.71H1936.65"/>
<text class="al" transform="translate(26.6 1963.3) rotate(-90)">Model</text>
<text class="al" x="1012.6" y="2286.4">Feature</text>
<text class="cap" y="2335.55"><tspan class="pr" x="998.85" y="2336.55">(</tspan><tspan x="1012.8" y="2335.55">d</tspan><tspan class="pr" x="1027.1" y="2336.55">)</tspan></text>
</g>
</svg>
</body></html>
